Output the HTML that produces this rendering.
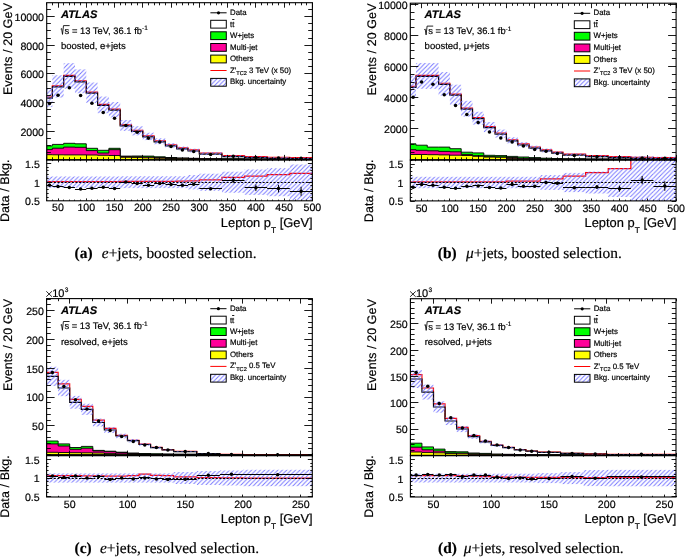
<!DOCTYPE html><html><head><meta charset="utf-8"><style>html,body{margin:0;padding:0;background:#fff;width:685px;height:559px;overflow:hidden}svg{display:block;will-change:transform;text-rendering:geometricPrecision} text{stroke:#000;stroke-width:0.18px}</style></head><body>
<svg width="685" height="559" viewBox="0 0 685 559">
<defs><pattern id="hatch" patternUnits="userSpaceOnUse" width="4.4" height="4.4"><path d="M-1.1,1.1 L1.1,-1.1 M0,4.4 L4.4,0 M3.3,5.5 L5.5,3.3" stroke="#7070ff" stroke-width="0.9"/></pattern><pattern id="hatch2" patternUnits="userSpaceOnUse" width="4.4" height="4.4" x="0.5" y="0.5"><path d="M-1.1,1.1 L1.1,-1.1 M0,4.4 L4.4,0 M3.3,5.5 L5.5,3.3" stroke="#7070ff" stroke-width="0.9"/></pattern></defs>
<rect width="685" height="559" fill="#fff"/>
<clipPath id="clipa"><rect x="46.7" y="2.7" width="265.7" height="157.2"/></clipPath>
<clipPath id="rclipa"><rect x="46.7" y="159.9" width="265.7" height="40.9"/></clipPath>
<g clip-path="url(#clipa)">
<path d="M46.7,161.9 L46.7,145.9 L52.35,145.9 L52.35,144.4 L63.66,144.4 L63.66,143.3 L74.97,143.3 L74.97,143.8 L86.27,143.8 L86.27,148.3 L97.58,148.3 L97.58,150.3 L108.89,150.3 L108.89,148.3 L120.19,148.3 L120.19,156.1 L131.5,156.1 L131.5,156 L142.8,156 L142.8,156.1 L154.11,156.1 L154.11,156.8 L165.42,156.8 L165.42,157.5 L176.72,157.5 L176.72,158 L188.03,158 L188.03,158.3 L199.34,158.3 L199.34,158.6 L221.95,158.6 L221.95,158.8 L244.56,158.8 L244.56,159 L267.17,159 L267.17,159.1 L289.79,159.1 L289.79,159.2 L312.4,159.2 L312.4,161.9 Z" fill="#00ff00" stroke="#000" stroke-width="0.9"/>
<path d="M46.7,161.9 L46.7,149.6 L52.35,149.6 L52.35,148.2 L63.66,148.2 L63.66,147.1 L74.97,147.1 L74.97,147.3 L86.27,147.3 L86.27,150.6 L97.58,150.6 L97.58,153 L108.89,153 L108.89,149.7 L120.19,149.7 L120.19,156.6 L131.5,156.6 L131.5,156.8 L142.8,156.8 L142.8,157 L154.11,157 L154.11,157.6 L165.42,157.6 L165.42,158 L176.72,158 L176.72,158.3 L188.03,158.3 L188.03,158.6 L199.34,158.6 L199.34,158.8 L221.95,158.8 L221.95,159 L244.56,159 L244.56,159.1 L267.17,159.1 L267.17,159.2 L289.79,159.2 L289.79,159.3 L312.4,159.3 L312.4,161.9 Z" fill="#ff0099" stroke="#000" stroke-width="0.9"/>
<path d="M46.7,161.9 L46.7,154.7 L52.35,154.7 L52.35,154.8 L63.66,154.8 L63.66,154.9 L74.97,154.9 L74.97,154.9 L86.27,154.9 L86.27,155 L97.58,155 L97.58,155.3 L108.89,155.3 L108.89,155.5 L120.19,155.5 L120.19,157.3 L131.5,157.3 L131.5,157.4 L142.8,157.4 L142.8,157.8 L154.11,157.8 L154.11,158.2 L165.42,158.2 L165.42,158.5 L176.72,158.5 L176.72,158.7 L188.03,158.7 L188.03,158.9 L199.34,158.9 L199.34,159.1 L221.95,159.1 L221.95,159.2 L244.56,159.2 L244.56,159.3 L267.17,159.3 L267.17,159.4 L289.79,159.4 L289.79,159.5 L312.4,159.5 L312.4,161.9 Z" fill="#ffff00" stroke="#000" stroke-width="0.9"/>
<line x1="46.7" y1="159.9" x2="312.4" y2="159.9" stroke="#000" stroke-width="1.0"/>
<path d="M46.7,97 L52.35,97 L52.35,85.8 L63.66,85.8 L63.66,75.3 L74.97,75.3 L74.97,80.7 L86.27,80.7 L86.27,92.1 L97.58,92.1 L97.58,104.3 L108.89,104.3 L108.89,109.1 L120.19,109.1 L120.19,124.8 L131.5,124.8 L131.5,130.2 L142.8,130.2 L142.8,135.8 L154.11,135.8 L154.11,140.7 L165.42,140.7 L165.42,144.7 L176.72,144.7 L176.72,147.8 L188.03,147.8 L188.03,149.9 L199.34,149.9 L199.34,153 L221.95,153 L221.95,155.6 L244.56,155.6 L244.56,156.6 L267.17,156.6 L267.17,157.2 L289.79,157.2 L289.79,157.6 L312.4,157.6" fill="none" stroke="#ff0000" stroke-width="1.15"/>
<path d="M46.7,98.1 L52.35,98.1 L52.35,86.9 L63.66,86.9 L63.66,76.4 L74.97,76.4 L74.97,81.8 L86.27,81.8 L86.27,93.2 L97.58,93.2 L97.58,105.4 L108.89,105.4 L108.89,110.2 L120.19,110.2 L120.19,125.9 L131.5,125.9 L131.5,131.3 L142.8,131.3 L142.8,136.9 L154.11,136.9 L154.11,141.8 L165.42,141.8 L165.42,145.8 L176.72,145.8 L176.72,148.9 L188.03,148.9 L188.03,151 L199.34,151 L199.34,154.1 L221.95,154.1 L221.95,156.7 L244.56,156.7 L244.56,157.7 L267.17,157.7 L267.17,158.3 L289.79,158.3 L289.79,158.7 L312.4,158.7" fill="none" stroke="#000" stroke-width="1.2"/>
<rect x="46.7" y="88.16" width="5.65" height="18.89" fill="url(#hatch)"/>
<rect x="52.35" y="75.26" width="11.31" height="22.28" fill="url(#hatch)"/>
<rect x="63.66" y="63.17" width="11.31" height="25.47" fill="url(#hatch)"/>
<rect x="74.97" y="69.38" width="11.31" height="23.83" fill="url(#hatch)"/>
<rect x="86.27" y="82.51" width="11.31" height="20.37" fill="url(#hatch)"/>
<rect x="97.58" y="96.56" width="11.31" height="16.68" fill="url(#hatch)"/>
<rect x="108.89" y="102.09" width="11.31" height="15.22" fill="url(#hatch)"/>
<rect x="120.19" y="119.99" width="11.31" height="10.83" fill="url(#hatch)"/>
<rect x="131.5" y="126.23" width="11.31" height="9.13" fill="url(#hatch)"/>
<rect x="142.8" y="132.71" width="11.31" height="7.38" fill="url(#hatch)"/>
<rect x="154.11" y="138.38" width="11.31" height="5.84" fill="url(#hatch)"/>
<rect x="165.42" y="143.01" width="11.31" height="4.58" fill="url(#hatch)"/>
<rect x="176.72" y="146.6" width="11.31" height="3.61" fill="url(#hatch)"/>
<rect x="188.03" y="148.7" width="11.31" height="3.6" fill="url(#hatch)"/>
<rect x="199.34" y="152.18" width="22.61" height="2.85" fill="url(#hatch)"/>
<rect x="221.95" y="155.17" width="22.61" height="2.07" fill="url(#hatch)"/>
<rect x="244.56" y="156.29" width="22.61" height="1.82" fill="url(#hatch)"/>
<rect x="267.17" y="157.02" width="22.61" height="1.56" fill="url(#hatch)"/>
<rect x="289.79" y="157.4" width="22.61" height="1.6" fill="url(#hatch)"/>
<circle cx="49.53" cy="103.6" r="1.75" fill="#000"/>
<circle cx="58.01" cy="95.3" r="1.75" fill="#000"/>
<circle cx="69.31" cy="87.8" r="1.75" fill="#000"/>
<circle cx="80.62" cy="95.6" r="1.75" fill="#000"/>
<circle cx="91.93" cy="103.2" r="1.75" fill="#000"/>
<circle cx="103.23" cy="112.4" r="1.75" fill="#000"/>
<circle cx="114.54" cy="118.2" r="1.75" fill="#000"/>
<circle cx="125.84" cy="125.4" r="1.75" fill="#000"/>
<circle cx="137.15" cy="132.2" r="1.75" fill="#000"/>
<circle cx="148.46" cy="138.3" r="1.75" fill="#000"/>
<circle cx="159.76" cy="142.1" r="1.75" fill="#000"/>
<circle cx="171.07" cy="146.4" r="1.75" fill="#000"/>
<circle cx="182.38" cy="149.9" r="1.75" fill="#000"/>
<circle cx="193.68" cy="151.6" r="1.75" fill="#000"/>
<circle cx="210.64" cy="154.4" r="1.75" fill="#000"/>
<circle cx="233.26" cy="156.3" r="1.75" fill="#000"/>
<circle cx="255.87" cy="157.5" r="1.75" fill="#000"/>
<circle cx="278.48" cy="158" r="1.75" fill="#000"/>
<circle cx="301.09" cy="158.3" r="1.75" fill="#000"/>
</g>
<g clip-path="url(#rclipa)">
<path d="M46.7,181.7 L52.35,181.7 L52.35,181.7 L63.66,181.7 L63.66,181.7 L74.97,181.7 L74.97,181.7 L86.27,181.7 L86.27,181.7 L97.58,181.7 L97.58,181.7 L108.89,181.7 L108.89,181.7 L120.19,181.7 L120.19,181.4 L131.5,181.4 L131.5,181.4 L142.8,181.4 L142.8,181.4 L154.11,181.4 L154.11,181.4 L165.42,181.4 L165.42,181.4 L176.72,181.4 L176.72,181.1 L188.03,181.1 L188.03,180.8 L199.34,180.8 L199.34,179.9 L221.95,179.9 L221.95,177.4 L244.56,177.4 L244.56,176.2 L267.17,176.2 L267.17,174.6 L289.79,174.6 L289.79,173.3 L312.4,173.3" fill="none" stroke="#ff0000" stroke-width="1.25"/>
<rect x="46.7" y="176.5" width="5.65" height="11.4" fill="url(#hatch)"/>
<rect x="52.35" y="176.5" width="11.31" height="11.4" fill="url(#hatch)"/>
<rect x="63.66" y="176.5" width="11.31" height="11.4" fill="url(#hatch)"/>
<rect x="74.97" y="176.5" width="11.31" height="11.4" fill="url(#hatch)"/>
<rect x="86.27" y="176.5" width="11.31" height="11.4" fill="url(#hatch)"/>
<rect x="97.58" y="176.5" width="11.31" height="11.4" fill="url(#hatch)"/>
<rect x="108.89" y="176.5" width="11.31" height="11.4" fill="url(#hatch)"/>
<rect x="120.19" y="176.3" width="11.31" height="11.8" fill="url(#hatch)"/>
<rect x="131.5" y="176.3" width="11.31" height="11.8" fill="url(#hatch)"/>
<rect x="142.8" y="176.3" width="11.31" height="11.8" fill="url(#hatch)"/>
<rect x="154.11" y="176.3" width="11.31" height="11.8" fill="url(#hatch)"/>
<rect x="165.42" y="176.3" width="11.31" height="11.8" fill="url(#hatch)"/>
<rect x="176.72" y="176.3" width="11.31" height="11.8" fill="url(#hatch)"/>
<rect x="188.03" y="175" width="11.31" height="14.4" fill="url(#hatch)"/>
<rect x="199.34" y="173.7" width="22.61" height="17" fill="url(#hatch)"/>
<rect x="221.95" y="171.7" width="22.61" height="21" fill="url(#hatch)"/>
<rect x="244.56" y="169.5" width="22.61" height="25.4" fill="url(#hatch)"/>
<rect x="267.17" y="168.2" width="22.61" height="28" fill="url(#hatch)"/>
<rect x="289.79" y="164.5" width="22.61" height="35.4" fill="url(#hatch)"/>
<line x1="46.7" y1="182.5" x2="312.4" y2="182.5" stroke="#000" stroke-width="1" stroke-dasharray="2,1.6"/>
<line x1="46.7" y1="185.5" x2="52.35" y2="185.5" stroke="#000" stroke-width="1.1"/>
<circle cx="49.53" cy="185.2" r="1.75" fill="#000"/>
<line x1="52.35" y1="186.5" x2="63.66" y2="186.5" stroke="#000" stroke-width="1.1"/>
<circle cx="58.01" cy="186.6" r="1.75" fill="#000"/>
<line x1="63.66" y1="187.5" x2="74.97" y2="187.5" stroke="#000" stroke-width="1.1"/>
<circle cx="69.31" cy="187.6" r="1.75" fill="#000"/>
<line x1="74.97" y1="189.5" x2="86.27" y2="189.5" stroke="#000" stroke-width="1.1"/>
<circle cx="80.62" cy="189.1" r="1.75" fill="#000"/>
<line x1="86.27" y1="188.5" x2="97.58" y2="188.5" stroke="#000" stroke-width="1.1"/>
<circle cx="91.93" cy="188.2" r="1.75" fill="#000"/>
<line x1="97.58" y1="187.5" x2="108.89" y2="187.5" stroke="#000" stroke-width="1.1"/>
<circle cx="103.23" cy="187.2" r="1.75" fill="#000"/>
<line x1="108.89" y1="188.5" x2="120.19" y2="188.5" stroke="#000" stroke-width="1.1"/>
<circle cx="114.54" cy="188.5" r="1.75" fill="#000"/>
<line x1="120.19" y1="182.5" x2="131.5" y2="182.5" stroke="#000" stroke-width="1.1"/>
<circle cx="125.84" cy="182" r="1.75" fill="#000"/>
<line x1="131.5" y1="183.5" x2="142.8" y2="183.5" stroke="#000" stroke-width="1.1"/>
<circle cx="137.15" cy="183.4" r="1.75" fill="#000"/>
<line x1="142.8" y1="185.5" x2="154.11" y2="185.5" stroke="#000" stroke-width="1.1"/>
<circle cx="148.46" cy="185.3" r="1.75" fill="#000"/>
<line x1="154.11" y1="183.5" x2="165.42" y2="183.5" stroke="#000" stroke-width="1.1"/>
<circle cx="159.76" cy="183.4" r="1.75" fill="#000"/>
<line x1="165.42" y1="184.5" x2="176.72" y2="184.5" stroke="#000" stroke-width="1.1"/>
<circle cx="171.07" cy="184.6" r="1.75" fill="#000"/>
<line x1="176.72" y1="185.5" x2="188.03" y2="185.5" stroke="#000" stroke-width="1.1"/>
<circle cx="182.38" cy="185.2" r="1.75" fill="#000"/>
<line x1="188.03" y1="184.5" x2="199.34" y2="184.5" stroke="#000" stroke-width="1.1"/>
<circle cx="193.68" cy="184.2" r="1.75" fill="#000"/>
<line x1="199.34" y1="188.5" x2="221.95" y2="188.5" stroke="#000" stroke-width="1.1"/>
<circle cx="210.64" cy="188.7" r="1.75" fill="#000"/>
<line x1="221.95" y1="180.5" x2="244.56" y2="180.5" stroke="#000" stroke-width="1.1"/>
<line x1="233.26" y1="177.2" x2="233.26" y2="183.2" stroke="#000" stroke-width="1"/>
<circle cx="233.26" cy="180.2" r="1.75" fill="#000"/>
<line x1="244.56" y1="187.5" x2="267.17" y2="187.5" stroke="#000" stroke-width="1.1"/>
<line x1="255.87" y1="184.5" x2="255.87" y2="191.1" stroke="#000" stroke-width="1"/>
<circle cx="255.87" cy="187.8" r="1.75" fill="#000"/>
<line x1="267.17" y1="188.5" x2="289.79" y2="188.5" stroke="#000" stroke-width="1.1"/>
<line x1="278.48" y1="184.8" x2="278.48" y2="192.4" stroke="#000" stroke-width="1"/>
<circle cx="278.48" cy="188.6" r="1.75" fill="#000"/>
<line x1="289.79" y1="191.5" x2="312.4" y2="191.5" stroke="#000" stroke-width="1.1"/>
<line x1="301.09" y1="186.8" x2="301.09" y2="195.8" stroke="#000" stroke-width="1"/>
<circle cx="301.09" cy="191.3" r="1.75" fill="#000"/>
</g>
<path d="M46.7,159.5L50.9,159.5M312.4,159.5L308.2,159.5M46.7,152.5L50.9,152.5M312.4,152.5L308.2,152.5M46.7,145.5L50.9,145.5M312.4,145.5L308.2,145.5M46.7,138.5L50.9,138.5M312.4,138.5L308.2,138.5M46.7,131.5L54.7,131.5M312.4,131.5L304.4,131.5M46.7,124.5L50.9,124.5M312.4,124.5L308.2,124.5M46.7,116.5L50.9,116.5M312.4,116.5L308.2,116.5M46.7,109.5L50.9,109.5M312.4,109.5L308.2,109.5M46.7,102.5L54.7,102.5M312.4,102.5L304.4,102.5M46.7,95.5L50.9,95.5M312.4,95.5L308.2,95.5M46.7,88.5L50.9,88.5M312.4,88.5L308.2,88.5M46.7,81.5L50.9,81.5M312.4,81.5L308.2,81.5M46.7,73.5L54.7,73.5M312.4,73.5L304.4,73.5M46.7,66.5L50.9,66.5M312.4,66.5L308.2,66.5M46.7,59.5L50.9,59.5M312.4,59.5L308.2,59.5M46.7,52.5L50.9,52.5M312.4,52.5L308.2,52.5M46.7,45.5L54.7,45.5M312.4,45.5L304.4,45.5M46.7,38.5L50.9,38.5M312.4,38.5L308.2,38.5M46.7,30.5L50.9,30.5M312.4,30.5L308.2,30.5M46.7,23.5L50.9,23.5M312.4,23.5L308.2,23.5M46.7,16.5L54.7,16.5M312.4,16.5L304.4,16.5M46.7,9.5L50.9,9.5M312.4,9.5L308.2,9.5M46.5,2.7L46.5,5.3M46.5,159.9L46.5,157.3M46.5,200.8L46.5,199.6M46.5,159.9L46.5,161.1M52.5,2.7L52.5,5.3M52.5,159.9L52.5,157.3M52.5,200.8L52.5,199.6M52.5,159.9L52.5,161.1M58.5,2.7L58.5,7.7M58.5,159.9L58.5,154.9M58.5,200.8L58.5,198.4M58.5,159.9L58.5,162.3M63.5,2.7L63.5,5.3M63.5,159.9L63.5,157.3M63.5,200.8L63.5,199.6M63.5,159.9L63.5,161.1M69.5,2.7L69.5,5.3M69.5,159.9L69.5,157.3M69.5,200.8L69.5,199.6M69.5,159.9L69.5,161.1M74.5,2.7L74.5,5.3M74.5,159.9L74.5,157.3M74.5,200.8L74.5,199.6M74.5,159.9L74.5,161.1M80.5,2.7L80.5,5.3M80.5,159.9L80.5,157.3M80.5,200.8L80.5,199.6M80.5,159.9L80.5,161.1M86.5,2.7L86.5,7.7M86.5,159.9L86.5,154.9M86.5,200.8L86.5,198.4M86.5,159.9L86.5,162.3M91.5,2.7L91.5,5.3M91.5,159.9L91.5,157.3M91.5,200.8L91.5,199.6M91.5,159.9L91.5,161.1M97.5,2.7L97.5,5.3M97.5,159.9L97.5,157.3M97.5,200.8L97.5,199.6M97.5,159.9L97.5,161.1M103.5,2.7L103.5,5.3M103.5,159.9L103.5,157.3M103.5,200.8L103.5,199.6M103.5,159.9L103.5,161.1M108.5,2.7L108.5,5.3M108.5,159.9L108.5,157.3M108.5,200.8L108.5,199.6M108.5,159.9L108.5,161.1M114.5,2.7L114.5,7.7M114.5,159.9L114.5,154.9M114.5,200.8L114.5,198.4M114.5,159.9L114.5,162.3M120.5,2.7L120.5,5.3M120.5,159.9L120.5,157.3M120.5,200.8L120.5,199.6M120.5,159.9L120.5,161.1M125.5,2.7L125.5,5.3M125.5,159.9L125.5,157.3M125.5,200.8L125.5,199.6M125.5,159.9L125.5,161.1M131.5,2.7L131.5,5.3M131.5,159.9L131.5,157.3M131.5,200.8L131.5,199.6M131.5,159.9L131.5,161.1M137.5,2.7L137.5,5.3M137.5,159.9L137.5,157.3M137.5,200.8L137.5,199.6M137.5,159.9L137.5,161.1M142.5,2.7L142.5,7.7M142.5,159.9L142.5,154.9M142.5,200.8L142.5,198.4M142.5,159.9L142.5,162.3M148.5,2.7L148.5,5.3M148.5,159.9L148.5,157.3M148.5,200.8L148.5,199.6M148.5,159.9L148.5,161.1M154.5,2.7L154.5,5.3M154.5,159.9L154.5,157.3M154.5,200.8L154.5,199.6M154.5,159.9L154.5,161.1M159.5,2.7L159.5,5.3M159.5,159.9L159.5,157.3M159.5,200.8L159.5,199.6M159.5,159.9L159.5,161.1M165.5,2.7L165.5,5.3M165.5,159.9L165.5,157.3M165.5,200.8L165.5,199.6M165.5,159.9L165.5,161.1M171.5,2.7L171.5,7.7M171.5,159.9L171.5,154.9M171.5,200.8L171.5,198.4M171.5,159.9L171.5,162.3M176.5,2.7L176.5,5.3M176.5,159.9L176.5,157.3M176.5,200.8L176.5,199.6M176.5,159.9L176.5,161.1M182.5,2.7L182.5,5.3M182.5,159.9L182.5,157.3M182.5,200.8L182.5,199.6M182.5,159.9L182.5,161.1M188.5,2.7L188.5,5.3M188.5,159.9L188.5,157.3M188.5,200.8L188.5,199.6M188.5,159.9L188.5,161.1M193.5,2.7L193.5,5.3M193.5,159.9L193.5,157.3M193.5,200.8L193.5,199.6M193.5,159.9L193.5,161.1M199.5,2.7L199.5,7.7M199.5,159.9L199.5,154.9M199.5,200.8L199.5,198.4M199.5,159.9L199.5,162.3M204.5,2.7L204.5,5.3M204.5,159.9L204.5,157.3M204.5,200.8L204.5,199.6M204.5,159.9L204.5,161.1M210.5,2.7L210.5,5.3M210.5,159.9L210.5,157.3M210.5,200.8L210.5,199.6M210.5,159.9L210.5,161.1M216.5,2.7L216.5,5.3M216.5,159.9L216.5,157.3M216.5,200.8L216.5,199.6M216.5,159.9L216.5,161.1M221.5,2.7L221.5,5.3M221.5,159.9L221.5,157.3M221.5,200.8L221.5,199.6M221.5,159.9L221.5,161.1M227.5,2.7L227.5,7.7M227.5,159.9L227.5,154.9M227.5,200.8L227.5,198.4M227.5,159.9L227.5,162.3M233.5,2.7L233.5,5.3M233.5,159.9L233.5,157.3M233.5,200.8L233.5,199.6M233.5,159.9L233.5,161.1M238.5,2.7L238.5,5.3M238.5,159.9L238.5,157.3M238.5,200.8L238.5,199.6M238.5,159.9L238.5,161.1M244.5,2.7L244.5,5.3M244.5,159.9L244.5,157.3M244.5,200.8L244.5,199.6M244.5,159.9L244.5,161.1M250.5,2.7L250.5,5.3M250.5,159.9L250.5,157.3M250.5,200.8L250.5,199.6M250.5,159.9L250.5,161.1M255.5,2.7L255.5,7.7M255.5,159.9L255.5,154.9M255.5,200.8L255.5,198.4M255.5,159.9L255.5,162.3M261.5,2.7L261.5,5.3M261.5,159.9L261.5,157.3M261.5,200.8L261.5,199.6M261.5,159.9L261.5,161.1M267.5,2.7L267.5,5.3M267.5,159.9L267.5,157.3M267.5,200.8L267.5,199.6M267.5,159.9L267.5,161.1M272.5,2.7L272.5,5.3M272.5,159.9L272.5,157.3M272.5,200.8L272.5,199.6M272.5,159.9L272.5,161.1M278.5,2.7L278.5,5.3M278.5,159.9L278.5,157.3M278.5,200.8L278.5,199.6M278.5,159.9L278.5,161.1M284.5,2.7L284.5,7.7M284.5,159.9L284.5,154.9M284.5,200.8L284.5,198.4M284.5,159.9L284.5,162.3M289.5,2.7L289.5,5.3M289.5,159.9L289.5,157.3M289.5,200.8L289.5,199.6M289.5,159.9L289.5,161.1M295.5,2.7L295.5,5.3M295.5,159.9L295.5,157.3M295.5,200.8L295.5,199.6M295.5,159.9L295.5,161.1M301.5,2.7L301.5,5.3M301.5,159.9L301.5,157.3M301.5,200.8L301.5,199.6M301.5,159.9L301.5,161.1M306.5,2.7L306.5,5.3M306.5,159.9L306.5,157.3M306.5,200.8L306.5,199.6M306.5,159.9L306.5,161.1M312.5,2.7L312.5,7.7M312.5,159.9L312.5,154.9M312.5,200.8L312.5,198.4M312.5,159.9L312.5,162.3M46.7,197.5L48.7,197.5M312.4,197.5L310.4,197.5M46.7,193.5L48.7,193.5M312.4,193.5L310.4,193.5M46.7,189.5L48.7,189.5M312.4,189.5L310.4,189.5M46.7,185.5L48.7,185.5M312.4,185.5L310.4,185.5M46.7,182.5L51.2,182.5M312.4,182.5L307.9,182.5M46.7,178.5L48.7,178.5M312.4,178.5L310.4,178.5M46.7,174.5L48.7,174.5M312.4,174.5L310.4,174.5M46.7,170.5L48.7,170.5M312.4,170.5L310.4,170.5M46.7,167.5L48.7,167.5M312.4,167.5L310.4,167.5M46.7,163.5L51.2,163.5M312.4,163.5L307.9,163.5" stroke="#000" stroke-width="0.9" fill="none"/>
<rect x="46.7" y="2.7" width="265.7" height="157.2" fill="none" stroke="#000" stroke-width="1.1"/>
<rect x="46.7" y="159.9" width="265.7" height="40.9" fill="none" stroke="#000" stroke-width="1.1"/>
<text x="44" y="135.62" text-anchor="end" style="font-family:'Liberation Sans',sans-serif;font-size:10.6px">2000</text>
<text x="44" y="106.94" text-anchor="end" style="font-family:'Liberation Sans',sans-serif;font-size:10.6px">4000</text>
<text x="44" y="78.26" text-anchor="end" style="font-family:'Liberation Sans',sans-serif;font-size:10.6px">6000</text>
<text x="44" y="49.58" text-anchor="end" style="font-family:'Liberation Sans',sans-serif;font-size:10.6px">8000</text>
<text x="44" y="20.9" text-anchor="end" style="font-family:'Liberation Sans',sans-serif;font-size:10.6px">10000</text>
<text x="39.8" y="205.4" text-anchor="end" style="font-family:'Liberation Sans',sans-serif;font-size:10.6px">0.5</text>
<text x="39.8" y="186.6" text-anchor="end" style="font-family:'Liberation Sans',sans-serif;font-size:10.6px">1</text>
<text x="39.8" y="167.8" text-anchor="end" style="font-family:'Liberation Sans',sans-serif;font-size:10.6px">1.5</text>
<text x="58.01" y="211.4" text-anchor="middle" style="font-family:'Liberation Sans',sans-serif;font-size:10.6px">50</text>
<text x="86.27" y="211.4" text-anchor="middle" style="font-family:'Liberation Sans',sans-serif;font-size:10.6px">100</text>
<text x="114.54" y="211.4" text-anchor="middle" style="font-family:'Liberation Sans',sans-serif;font-size:10.6px">150</text>
<text x="142.8" y="211.4" text-anchor="middle" style="font-family:'Liberation Sans',sans-serif;font-size:10.6px">200</text>
<text x="171.07" y="211.4" text-anchor="middle" style="font-family:'Liberation Sans',sans-serif;font-size:10.6px">250</text>
<text x="199.34" y="211.4" text-anchor="middle" style="font-family:'Liberation Sans',sans-serif;font-size:10.6px">300</text>
<text x="227.6" y="211.4" text-anchor="middle" style="font-family:'Liberation Sans',sans-serif;font-size:10.6px">350</text>
<text x="255.87" y="211.4" text-anchor="middle" style="font-family:'Liberation Sans',sans-serif;font-size:10.6px">400</text>
<text x="284.13" y="211.4" text-anchor="middle" style="font-family:'Liberation Sans',sans-serif;font-size:10.6px">450</text>
<text x="312.4" y="211.4" text-anchor="middle" style="font-family:'Liberation Sans',sans-serif;font-size:10.6px">500</text>
<text transform="translate(11.8,3.1) rotate(-90)" text-anchor="end" textLength="92" lengthAdjust="spacing" style="font-family:'Liberation Sans',sans-serif;font-size:12.4px">Events / 20 GeV</text>
<text transform="translate(8.8,159.5) rotate(-90)" text-anchor="end" textLength="62.6" lengthAdjust="spacing" style="font-family:'Liberation Sans',sans-serif;font-size:12.4px">Data / Bkg.</text>
<text x="312.7" y="226.6" text-anchor="end" style="font-family:'Liberation Sans',sans-serif;font-size:12.9px">Lepton p<tspan dy="6.2" style="font-size:8.4px">T</tspan><tspan dy="-6.2"> [GeV]</tspan></text>
<text x="61" y="17.8" style="font-family:'Liberation Sans',sans-serif;font-size:11px;font-weight:bold;font-style:italic" textLength="36.4" lengthAdjust="spacingAndGlyphs">ATLAS</text>
<path d="M60.7,29.1 L61.6,28.6 L62.5,34.4 L63.5,25.6 L69.6,25.6" fill="none" stroke="#000" stroke-width="0.85" stroke-linejoin="miter"/>
<text x="64.6" y="33.5" style="font-family:'Liberation Sans',sans-serif;font-size:9.4px">s = 13 TeV, 36.1 fb<tspan dy="-3.3" style="font-size:6.5px">-1</tspan></text>
<text x="61" y="48.8" style="font-family:'Liberation Sans',sans-serif;font-size:9.5px">boosted, e+jets</text>
<line x1="210.4" y1="12.8" x2="226.6" y2="12.8" stroke="#000" stroke-width="1"/>
<circle cx="218.5" cy="12.8" r="1.6" fill="#000"/>
<text x="230" y="14.9" style="font-family:'Liberation Sans',sans-serif;font-size:7.85px">Data</text>
<rect x="210.7" y="20.3" width="15.6" height="7.8" fill="#fff" stroke="#000" stroke-width="1"/>
<text x="230" y="26.8" style="font-family:'Liberation Sans',sans-serif;font-size:7.85px">tt</text>
<line x1="232.2" y1="19.5" x2="234.4" y2="19.5" stroke="#000" stroke-width="0.9"/>
<rect x="210.7" y="31.8" width="15.6" height="7.8" fill="#00ff00" stroke="#000" stroke-width="1"/>
<text x="230" y="37.8" style="font-family:'Liberation Sans',sans-serif;font-size:7.85px">W+jets</text>
<rect x="210.7" y="43.5" width="15.6" height="7.8" fill="#ff0099" stroke="#000" stroke-width="1"/>
<text x="230" y="49.5" style="font-family:'Liberation Sans',sans-serif;font-size:7.85px">Multi-jet</text>
<rect x="210.7" y="55.1" width="15.6" height="7.8" fill="#ffff00" stroke="#000" stroke-width="1"/>
<text x="230" y="61.1" style="font-family:'Liberation Sans',sans-serif;font-size:7.85px">Others</text>
<line x1="210.4" y1="70.5" x2="226.6" y2="70.5" stroke="#ff0000" stroke-width="1"/>
<text x="230" y="72.5" style="font-family:'Liberation Sans',sans-serif;font-size:7.85px">Z'<tspan dy="2.4" style="font-size:5.6px">TC2</tspan><tspan dy="-2.4"> 3 TeV (x 50)</tspan></text>
<rect x="210.7" y="78.4" width="15.6" height="7.8" fill="url(#hatch2)" stroke="#000" stroke-width="1"/>
<text x="230" y="84.4" style="font-family:'Liberation Sans',sans-serif;font-size:7.85px">Bkg. uncertainty</text>
<clipPath id="clipb"><rect x="410.3" y="3.2" width="265.8" height="156.8"/></clipPath>
<clipPath id="rclipb"><rect x="410.3" y="160" width="265.8" height="40.9"/></clipPath>
<g clip-path="url(#clipb)">
<path d="M410.3,161.8 L410.3,143.8 L415.96,143.8 L415.96,145.2 L427.27,145.2 L427.27,147.1 L438.58,147.1 L438.58,147.1 L449.89,147.1 L449.89,148.7 L461.2,148.7 L461.2,152.2 L472.51,152.2 L472.51,152.9 L483.82,152.9 L483.82,155.3 L495.13,155.3 L495.13,155.6 L506.44,155.6 L506.44,156.4 L517.75,156.4 L517.75,157 L529.06,157 L529.06,157.6 L540.37,157.6 L540.37,158.2 L551.68,158.2 L551.68,158.5 L562.99,158.5 L562.99,158.7 L585.61,158.7 L585.61,158.9 L608.24,158.9 L608.24,159 L630.86,159 L630.86,159.1 L653.48,159.1 L653.48,159.2 L676.1,159.2 L676.1,161.8 Z" fill="#00ff00" stroke="#000" stroke-width="0.9"/>
<path d="M410.3,161.8 L410.3,149.7 L415.96,149.7 L415.96,150.3 L427.27,150.3 L427.27,150.8 L438.58,150.8 L438.58,151.4 L449.89,151.4 L449.89,151.8 L461.2,151.8 L461.2,154.4 L472.51,154.4 L472.51,155.7 L483.82,155.7 L483.82,156.7 L495.13,156.7 L495.13,156.9 L506.44,156.9 L506.44,157.6 L517.75,157.6 L517.75,158.2 L529.06,158.2 L529.06,158.6 L540.37,158.6 L540.37,158.9 L551.68,158.9 L551.68,159 L562.99,159 L562.99,159.1 L585.61,159.1 L585.61,159.2 L608.24,159.2 L608.24,159.3 L630.86,159.3 L630.86,159.3 L653.48,159.3 L653.48,159.4 L676.1,159.4 L676.1,161.8 Z" fill="#ff0099" stroke="#000" stroke-width="0.9"/>
<path d="M410.3,161.8 L410.3,154.5 L415.96,154.5 L415.96,154.5 L427.27,154.5 L427.27,154.7 L438.58,154.7 L438.58,154.9 L449.89,154.9 L449.89,155.2 L461.2,155.2 L461.2,155.5 L472.51,155.5 L472.51,156.3 L483.82,156.3 L483.82,157.1 L495.13,157.1 L495.13,157.3 L506.44,157.3 L506.44,158.4 L517.75,158.4 L517.75,158.9 L529.06,158.9 L529.06,159.2 L540.37,159.2 L540.37,159.3 L551.68,159.3 L551.68,159.4 L562.99,159.4 L562.99,159.4 L585.61,159.4 L585.61,159.5 L608.24,159.5 L608.24,159.5 L630.86,159.5 L630.86,159.5 L653.48,159.5 L653.48,159.6 L676.1,159.6 L676.1,161.8 Z" fill="#ffff00" stroke="#000" stroke-width="0.9"/>
<line x1="410.3" y1="159.8" x2="676.1" y2="159.8" stroke="#000" stroke-width="1.0"/>
<path d="M410.3,86.2 L415.96,86.2 L415.96,75.3 L427.27,75.3 L427.27,75.3 L438.58,75.3 L438.58,83.2 L449.89,83.2 L449.89,94.1 L461.2,94.1 L461.2,108.1 L472.51,108.1 L472.51,117.6 L483.82,117.6 L483.82,126.5 L495.13,126.5 L495.13,133 L506.44,133 L506.44,139.7 L517.75,139.7 L517.75,143.9 L529.06,143.9 L529.06,147 L540.37,147 L540.37,149.8 L551.68,149.8 L551.68,152.1 L562.99,152.1 L562.99,154.1 L585.61,154.1 L585.61,155.6 L608.24,155.6 L608.24,156.6 L630.86,156.6 L630.86,157.2 L653.48,157.2 L653.48,157.5 L676.1,157.5" fill="none" stroke="#ff0000" stroke-width="1.15"/>
<path d="M410.3,87.3 L415.96,87.3 L415.96,76.4 L427.27,76.4 L427.27,76.4 L438.58,76.4 L438.58,84.3 L449.89,84.3 L449.89,95.2 L461.2,95.2 L461.2,109.2 L472.51,109.2 L472.51,118.7 L483.82,118.7 L483.82,127.6 L495.13,127.6 L495.13,134.1 L506.44,134.1 L506.44,140.8 L517.75,140.8 L517.75,145 L529.06,145 L529.06,148.1 L540.37,148.1 L540.37,150.9 L551.68,150.9 L551.68,153.2 L562.99,153.2 L562.99,155.2 L585.61,155.2 L585.61,156.7 L608.24,156.7 L608.24,157.7 L630.86,157.7 L630.86,158.3 L653.48,158.3 L653.48,158.6 L676.1,158.6" fill="none" stroke="#000" stroke-width="1.2"/>
<rect x="410.3" y="75.55" width="5.66" height="22.49" fill="url(#hatch)"/>
<rect x="415.96" y="62.97" width="11.31" height="25.85" fill="url(#hatch)"/>
<rect x="427.27" y="62.97" width="11.31" height="25.85" fill="url(#hatch)"/>
<rect x="438.58" y="72.09" width="11.31" height="23.42" fill="url(#hatch)"/>
<rect x="449.89" y="84.67" width="11.31" height="20.06" fill="url(#hatch)"/>
<rect x="461.2" y="100.83" width="11.31" height="15.74" fill="url(#hatch)"/>
<rect x="472.51" y="111.79" width="11.31" height="12.82" fill="url(#hatch)"/>
<rect x="483.82" y="122.06" width="11.31" height="10.08" fill="url(#hatch)"/>
<rect x="495.13" y="129.56" width="11.31" height="8.07" fill="url(#hatch)"/>
<rect x="506.44" y="137.3" width="11.31" height="6.01" fill="url(#hatch)"/>
<rect x="517.75" y="142.14" width="11.31" height="4.71" fill="url(#hatch)"/>
<rect x="529.06" y="145.72" width="11.31" height="3.76" fill="url(#hatch)"/>
<rect x="540.37" y="148.52" width="11.31" height="3.76" fill="url(#hatch)"/>
<rect x="551.68" y="151.28" width="11.31" height="2.84" fill="url(#hatch)"/>
<rect x="562.99" y="153.38" width="22.62" height="2.65" fill="url(#hatch)"/>
<rect x="585.61" y="155.13" width="22.62" height="2.14" fill="url(#hatch)"/>
<rect x="608.24" y="156.18" width="22.62" height="2.04" fill="url(#hatch)"/>
<rect x="630.86" y="156.18" width="22.62" height="3.24" fill="url(#hatch)"/>
<rect x="653.48" y="156.72" width="22.62" height="2.76" fill="url(#hatch)"/>
<circle cx="413.13" cy="97.3" r="1.75" fill="#000"/>
<circle cx="421.61" cy="82" r="1.75" fill="#000"/>
<circle cx="432.92" cy="84.2" r="1.75" fill="#000"/>
<circle cx="444.23" cy="94.7" r="1.75" fill="#000"/>
<circle cx="455.54" cy="105.4" r="1.75" fill="#000"/>
<circle cx="466.85" cy="114.6" r="1.75" fill="#000"/>
<circle cx="478.16" cy="122.6" r="1.75" fill="#000"/>
<circle cx="489.47" cy="132" r="1.75" fill="#000"/>
<circle cx="500.79" cy="138" r="1.75" fill="#000"/>
<circle cx="512.1" cy="142.1" r="1.75" fill="#000"/>
<circle cx="523.41" cy="146.1" r="1.75" fill="#000"/>
<circle cx="534.72" cy="149.5" r="1.75" fill="#000"/>
<circle cx="546.03" cy="151.2" r="1.75" fill="#000"/>
<circle cx="557.34" cy="153.6" r="1.75" fill="#000"/>
<circle cx="574.3" cy="155.6" r="1.75" fill="#000"/>
<circle cx="596.93" cy="156.8" r="1.75" fill="#000"/>
<circle cx="619.55" cy="157.6" r="1.75" fill="#000"/>
<circle cx="642.17" cy="157.9" r="1.75" fill="#000"/>
<circle cx="664.79" cy="158.3" r="1.75" fill="#000"/>
</g>
<g clip-path="url(#rclipb)">
<path d="M410.3,181.9 L415.96,181.9 L415.96,181.9 L427.27,181.9 L427.27,181.9 L438.58,181.9 L438.58,181.9 L449.89,181.9 L449.89,181.9 L461.2,181.9 L461.2,181.9 L472.51,181.9 L472.51,181.9 L483.82,181.9 L483.82,181.9 L495.13,181.9 L495.13,181.9 L506.44,181.9 L506.44,181 L517.75,181 L517.75,181 L529.06,181 L529.06,181 L540.37,181 L540.37,178.9 L551.68,178.9 L551.68,178.9 L562.99,178.9 L562.99,176.1 L585.61,176.1 L585.61,172.6 L608.24,172.6 L608.24,168.6 L630.86,168.6 L630.86,155 L653.48,155 L653.48,155 L676.1,155" fill="none" stroke="#ff0000" stroke-width="1.25"/>
<rect x="410.3" y="176.8" width="5.66" height="11.4" fill="url(#hatch)"/>
<rect x="415.96" y="176.8" width="11.31" height="11.4" fill="url(#hatch)"/>
<rect x="427.27" y="176.8" width="11.31" height="11.4" fill="url(#hatch)"/>
<rect x="438.58" y="176.8" width="11.31" height="11.4" fill="url(#hatch)"/>
<rect x="449.89" y="176.8" width="11.31" height="11.4" fill="url(#hatch)"/>
<rect x="461.2" y="176.8" width="11.31" height="11.4" fill="url(#hatch)"/>
<rect x="472.51" y="176.8" width="11.31" height="11.4" fill="url(#hatch)"/>
<rect x="483.82" y="176.8" width="11.31" height="11.4" fill="url(#hatch)"/>
<rect x="495.13" y="176.8" width="11.31" height="11.4" fill="url(#hatch)"/>
<rect x="506.44" y="176.8" width="11.31" height="11.4" fill="url(#hatch)"/>
<rect x="517.75" y="176.8" width="11.31" height="11.4" fill="url(#hatch)"/>
<rect x="529.06" y="176.8" width="11.31" height="11.4" fill="url(#hatch)"/>
<rect x="540.37" y="175.1" width="11.31" height="14.8" fill="url(#hatch)"/>
<rect x="551.68" y="175.1" width="11.31" height="14.8" fill="url(#hatch)"/>
<rect x="562.99" y="172.9" width="22.62" height="19.2" fill="url(#hatch)"/>
<rect x="585.61" y="171.5" width="22.62" height="22" fill="url(#hatch)"/>
<rect x="608.24" y="168" width="22.62" height="29" fill="url(#hatch)"/>
<rect x="630.86" y="152.5" width="22.62" height="60" fill="url(#hatch)"/>
<rect x="653.48" y="152.5" width="22.62" height="60" fill="url(#hatch)"/>
<line x1="410.3" y1="182.5" x2="676.1" y2="182.5" stroke="#000" stroke-width="1" stroke-dasharray="2,1.6"/>
<line x1="410.3" y1="187.5" x2="415.96" y2="187.5" stroke="#000" stroke-width="1.1"/>
<circle cx="413.13" cy="187.2" r="1.75" fill="#000"/>
<line x1="415.96" y1="184.5" x2="427.27" y2="184.5" stroke="#000" stroke-width="1.1"/>
<circle cx="421.61" cy="184.6" r="1.75" fill="#000"/>
<line x1="427.27" y1="185.5" x2="438.58" y2="185.5" stroke="#000" stroke-width="1.1"/>
<circle cx="432.92" cy="185.2" r="1.75" fill="#000"/>
<line x1="438.58" y1="187.5" x2="449.89" y2="187.5" stroke="#000" stroke-width="1.1"/>
<circle cx="444.23" cy="187.2" r="1.75" fill="#000"/>
<line x1="449.89" y1="188.5" x2="461.2" y2="188.5" stroke="#000" stroke-width="1.1"/>
<circle cx="455.54" cy="188.2" r="1.75" fill="#000"/>
<line x1="461.2" y1="186.5" x2="472.51" y2="186.5" stroke="#000" stroke-width="1.1"/>
<circle cx="466.85" cy="186.2" r="1.75" fill="#000"/>
<line x1="472.51" y1="185.5" x2="483.82" y2="185.5" stroke="#000" stroke-width="1.1"/>
<circle cx="478.16" cy="185.9" r="1.75" fill="#000"/>
<line x1="483.82" y1="187.5" x2="495.13" y2="187.5" stroke="#000" stroke-width="1.1"/>
<circle cx="489.47" cy="187.5" r="1.75" fill="#000"/>
<line x1="495.13" y1="188.5" x2="506.44" y2="188.5" stroke="#000" stroke-width="1.1"/>
<circle cx="500.79" cy="188" r="1.75" fill="#000"/>
<line x1="506.44" y1="184.5" x2="517.75" y2="184.5" stroke="#000" stroke-width="1.1"/>
<circle cx="512.1" cy="184.5" r="1.75" fill="#000"/>
<line x1="517.75" y1="186.5" x2="529.06" y2="186.5" stroke="#000" stroke-width="1.1"/>
<circle cx="523.41" cy="186.3" r="1.75" fill="#000"/>
<line x1="529.06" y1="186.5" x2="540.37" y2="186.5" stroke="#000" stroke-width="1.1"/>
<circle cx="534.72" cy="186.3" r="1.75" fill="#000"/>
<line x1="540.37" y1="182.5" x2="551.68" y2="182.5" stroke="#000" stroke-width="1.1"/>
<circle cx="546.03" cy="182.4" r="1.75" fill="#000"/>
<line x1="551.68" y1="183.5" x2="562.99" y2="183.5" stroke="#000" stroke-width="1.1"/>
<circle cx="557.34" cy="183.3" r="1.75" fill="#000"/>
<line x1="562.99" y1="187.5" x2="585.61" y2="187.5" stroke="#000" stroke-width="1.1"/>
<circle cx="574.3" cy="187.8" r="1.75" fill="#000"/>
<line x1="585.61" y1="187.5" x2="608.24" y2="187.5" stroke="#000" stroke-width="1.1"/>
<line x1="596.93" y1="185" x2="596.93" y2="189" stroke="#000" stroke-width="1"/>
<circle cx="596.93" cy="187" r="1.75" fill="#000"/>
<line x1="608.24" y1="188.5" x2="630.86" y2="188.5" stroke="#000" stroke-width="1.1"/>
<line x1="619.55" y1="185.7" x2="619.55" y2="191.7" stroke="#000" stroke-width="1"/>
<circle cx="619.55" cy="188.7" r="1.75" fill="#000"/>
<line x1="630.86" y1="180.5" x2="653.48" y2="180.5" stroke="#000" stroke-width="1.1"/>
<line x1="642.17" y1="176" x2="642.17" y2="184.2" stroke="#000" stroke-width="1"/>
<circle cx="642.17" cy="180.1" r="1.75" fill="#000"/>
<line x1="653.48" y1="186.5" x2="676.1" y2="186.5" stroke="#000" stroke-width="1.1"/>
<line x1="664.79" y1="181.2" x2="664.79" y2="190.8" stroke="#000" stroke-width="1"/>
<circle cx="664.79" cy="186" r="1.75" fill="#000"/>
</g>
<path d="M410.3,159.5L414.5,159.5M676.1,159.5L671.9,159.5M410.3,152.5L414.5,152.5M676.1,152.5L671.9,152.5M410.3,144.5L414.5,144.5M676.1,144.5L671.9,144.5M410.3,136.5L414.5,136.5M676.1,136.5L671.9,136.5M410.3,128.5L418.3,128.5M676.1,128.5L668.1,128.5M410.3,120.5L414.5,120.5M676.1,120.5L671.9,120.5M410.3,113.5L414.5,113.5M676.1,113.5L671.9,113.5M410.3,105.5L414.5,105.5M676.1,105.5L671.9,105.5M410.3,97.5L418.3,97.5M676.1,97.5L668.1,97.5M410.3,89.5L414.5,89.5M676.1,89.5L671.9,89.5M410.3,82.5L414.5,82.5M676.1,82.5L671.9,82.5M410.3,74.5L414.5,74.5M676.1,74.5L671.9,74.5M410.3,66.5L418.3,66.5M676.1,66.5L668.1,66.5M410.3,58.5L414.5,58.5M676.1,58.5L671.9,58.5M410.3,50.5L414.5,50.5M676.1,50.5L671.9,50.5M410.3,43.5L414.5,43.5M676.1,43.5L671.9,43.5M410.3,35.5L418.3,35.5M676.1,35.5L668.1,35.5M410.3,27.5L414.5,27.5M676.1,27.5L671.9,27.5M410.3,19.5L414.5,19.5M676.1,19.5L671.9,19.5M410.3,12.5L414.5,12.5M676.1,12.5L671.9,12.5M410.3,4.5L418.3,4.5M676.1,4.5L668.1,4.5M410.5,3.2L410.5,5.8M410.5,160L410.5,157.4M410.5,200.9L410.5,199.7M410.5,160L410.5,161.2M415.5,3.2L415.5,5.8M415.5,160L415.5,157.4M415.5,200.9L415.5,199.7M415.5,160L415.5,161.2M421.5,3.2L421.5,8.2M421.5,160L421.5,155M421.5,200.9L421.5,198.5M421.5,160L421.5,162.4M427.5,3.2L427.5,5.8M427.5,160L427.5,157.4M427.5,200.9L427.5,199.7M427.5,160L427.5,161.2M432.5,3.2L432.5,5.8M432.5,160L432.5,157.4M432.5,200.9L432.5,199.7M432.5,160L432.5,161.2M438.5,3.2L438.5,5.8M438.5,160L438.5,157.4M438.5,200.9L438.5,199.7M438.5,160L438.5,161.2M444.5,3.2L444.5,5.8M444.5,160L444.5,157.4M444.5,200.9L444.5,199.7M444.5,160L444.5,161.2M449.5,3.2L449.5,8.2M449.5,160L449.5,155M449.5,200.9L449.5,198.5M449.5,160L449.5,162.4M455.5,3.2L455.5,5.8M455.5,160L455.5,157.4M455.5,200.9L455.5,199.7M455.5,160L455.5,161.2M461.5,3.2L461.5,5.8M461.5,160L461.5,157.4M461.5,200.9L461.5,199.7M461.5,160L461.5,161.2M466.5,3.2L466.5,5.8M466.5,160L466.5,157.4M466.5,200.9L466.5,199.7M466.5,160L466.5,161.2M472.5,3.2L472.5,5.8M472.5,160L472.5,157.4M472.5,200.9L472.5,199.7M472.5,160L472.5,161.2M478.5,3.2L478.5,8.2M478.5,160L478.5,155M478.5,200.9L478.5,198.5M478.5,160L478.5,162.4M483.5,3.2L483.5,5.8M483.5,160L483.5,157.4M483.5,200.9L483.5,199.7M483.5,160L483.5,161.2M489.5,3.2L489.5,5.8M489.5,160L489.5,157.4M489.5,200.9L489.5,199.7M489.5,160L489.5,161.2M495.5,3.2L495.5,5.8M495.5,160L495.5,157.4M495.5,200.9L495.5,199.7M495.5,160L495.5,161.2M500.5,3.2L500.5,5.8M500.5,160L500.5,157.4M500.5,200.9L500.5,199.7M500.5,160L500.5,161.2M506.5,3.2L506.5,8.2M506.5,160L506.5,155M506.5,200.9L506.5,198.5M506.5,160L506.5,162.4M512.5,3.2L512.5,5.8M512.5,160L512.5,157.4M512.5,200.9L512.5,199.7M512.5,160L512.5,161.2M517.5,3.2L517.5,5.8M517.5,160L517.5,157.4M517.5,200.9L517.5,199.7M517.5,160L517.5,161.2M523.5,3.2L523.5,5.8M523.5,160L523.5,157.4M523.5,200.9L523.5,199.7M523.5,160L523.5,161.2M529.5,3.2L529.5,5.8M529.5,160L529.5,157.4M529.5,200.9L529.5,199.7M529.5,160L529.5,161.2M534.5,3.2L534.5,8.2M534.5,160L534.5,155M534.5,200.9L534.5,198.5M534.5,160L534.5,162.4M540.5,3.2L540.5,5.8M540.5,160L540.5,157.4M540.5,200.9L540.5,199.7M540.5,160L540.5,161.2M546.5,3.2L546.5,5.8M546.5,160L546.5,157.4M546.5,200.9L546.5,199.7M546.5,160L546.5,161.2M551.5,3.2L551.5,5.8M551.5,160L551.5,157.4M551.5,200.9L551.5,199.7M551.5,160L551.5,161.2M557.5,3.2L557.5,5.8M557.5,160L557.5,157.4M557.5,200.9L557.5,199.7M557.5,160L557.5,161.2M562.5,3.2L562.5,8.2M562.5,160L562.5,155M562.5,200.9L562.5,198.5M562.5,160L562.5,162.4M568.5,3.2L568.5,5.8M568.5,160L568.5,157.4M568.5,200.9L568.5,199.7M568.5,160L568.5,161.2M574.5,3.2L574.5,5.8M574.5,160L574.5,157.4M574.5,200.9L574.5,199.7M574.5,160L574.5,161.2M579.5,3.2L579.5,5.8M579.5,160L579.5,157.4M579.5,200.9L579.5,199.7M579.5,160L579.5,161.2M585.5,3.2L585.5,5.8M585.5,160L585.5,157.4M585.5,200.9L585.5,199.7M585.5,160L585.5,161.2M591.5,3.2L591.5,8.2M591.5,160L591.5,155M591.5,200.9L591.5,198.5M591.5,160L591.5,162.4M596.5,3.2L596.5,5.8M596.5,160L596.5,157.4M596.5,200.9L596.5,199.7M596.5,160L596.5,161.2M602.5,3.2L602.5,5.8M602.5,160L602.5,157.4M602.5,200.9L602.5,199.7M602.5,160L602.5,161.2M608.5,3.2L608.5,5.8M608.5,160L608.5,157.4M608.5,200.9L608.5,199.7M608.5,160L608.5,161.2M613.5,3.2L613.5,5.8M613.5,160L613.5,157.4M613.5,200.9L613.5,199.7M613.5,160L613.5,161.2M619.5,3.2L619.5,8.2M619.5,160L619.5,155M619.5,200.9L619.5,198.5M619.5,160L619.5,162.4M625.5,3.2L625.5,5.8M625.5,160L625.5,157.4M625.5,200.9L625.5,199.7M625.5,160L625.5,161.2M630.5,3.2L630.5,5.8M630.5,160L630.5,157.4M630.5,200.9L630.5,199.7M630.5,160L630.5,161.2M636.5,3.2L636.5,5.8M636.5,160L636.5,157.4M636.5,200.9L636.5,199.7M636.5,160L636.5,161.2M642.5,3.2L642.5,5.8M642.5,160L642.5,157.4M642.5,200.9L642.5,199.7M642.5,160L642.5,161.2M647.5,3.2L647.5,8.2M647.5,160L647.5,155M647.5,200.9L647.5,198.5M647.5,160L647.5,162.4M653.5,3.2L653.5,5.8M653.5,160L653.5,157.4M653.5,200.9L653.5,199.7M653.5,160L653.5,161.2M659.5,3.2L659.5,5.8M659.5,160L659.5,157.4M659.5,200.9L659.5,199.7M659.5,160L659.5,161.2M664.5,3.2L664.5,5.8M664.5,160L664.5,157.4M664.5,200.9L664.5,199.7M664.5,160L664.5,161.2M670.5,3.2L670.5,5.8M670.5,160L670.5,157.4M670.5,200.9L670.5,199.7M670.5,160L670.5,161.2M676.5,3.2L676.5,8.2M676.5,160L676.5,155M676.5,200.9L676.5,198.5M676.5,160L676.5,162.4M410.3,201.5L414.8,201.5M676.1,201.5L671.6,201.5M410.3,197.5L412.3,197.5M676.1,197.5L674.1,197.5M410.3,193.5L412.3,193.5M676.1,193.5L674.1,193.5M410.3,189.5L412.3,189.5M676.1,189.5L674.1,189.5M410.3,186.5L412.3,186.5M676.1,186.5L674.1,186.5M410.3,182.5L414.8,182.5M676.1,182.5L671.6,182.5M410.3,178.5L412.3,178.5M676.1,178.5L674.1,178.5M410.3,175.5L412.3,175.5M676.1,175.5L674.1,175.5M410.3,171.5L412.3,171.5M676.1,171.5L674.1,171.5M410.3,167.5L412.3,167.5M676.1,167.5L674.1,167.5M410.3,164.5L414.8,164.5M676.1,164.5L671.6,164.5M410.3,160.5L412.3,160.5M676.1,160.5L674.1,160.5" stroke="#000" stroke-width="0.9" fill="none"/>
<rect x="410.3" y="3.2" width="265.8" height="156.8" fill="none" stroke="#000" stroke-width="1.1"/>
<rect x="410.3" y="160" width="265.8" height="40.9" fill="none" stroke="#000" stroke-width="1.1"/>
<text x="407.6" y="133.1" text-anchor="end" style="font-family:'Liberation Sans',sans-serif;font-size:10.6px">2000</text>
<text x="407.6" y="102" text-anchor="end" style="font-family:'Liberation Sans',sans-serif;font-size:10.6px">4000</text>
<text x="407.6" y="70.9" text-anchor="end" style="font-family:'Liberation Sans',sans-serif;font-size:10.6px">6000</text>
<text x="407.6" y="39.8" text-anchor="end" style="font-family:'Liberation Sans',sans-serif;font-size:10.6px">8000</text>
<text x="407.6" y="8.7" text-anchor="end" style="font-family:'Liberation Sans',sans-serif;font-size:10.6px">10000</text>
<text x="403.4" y="205.4" text-anchor="end" style="font-family:'Liberation Sans',sans-serif;font-size:10.6px">0.5</text>
<text x="403.4" y="186.9" text-anchor="end" style="font-family:'Liberation Sans',sans-serif;font-size:10.6px">1</text>
<text x="403.4" y="168.4" text-anchor="end" style="font-family:'Liberation Sans',sans-serif;font-size:10.6px">1.5</text>
<text x="421.61" y="211.5" text-anchor="middle" style="font-family:'Liberation Sans',sans-serif;font-size:10.6px">50</text>
<text x="449.89" y="211.5" text-anchor="middle" style="font-family:'Liberation Sans',sans-serif;font-size:10.6px">100</text>
<text x="478.16" y="211.5" text-anchor="middle" style="font-family:'Liberation Sans',sans-serif;font-size:10.6px">150</text>
<text x="506.44" y="211.5" text-anchor="middle" style="font-family:'Liberation Sans',sans-serif;font-size:10.6px">200</text>
<text x="534.72" y="211.5" text-anchor="middle" style="font-family:'Liberation Sans',sans-serif;font-size:10.6px">250</text>
<text x="562.99" y="211.5" text-anchor="middle" style="font-family:'Liberation Sans',sans-serif;font-size:10.6px">300</text>
<text x="591.27" y="211.5" text-anchor="middle" style="font-family:'Liberation Sans',sans-serif;font-size:10.6px">350</text>
<text x="619.55" y="211.5" text-anchor="middle" style="font-family:'Liberation Sans',sans-serif;font-size:10.6px">400</text>
<text x="647.82" y="211.5" text-anchor="middle" style="font-family:'Liberation Sans',sans-serif;font-size:10.6px">450</text>
<text x="676.1" y="211.5" text-anchor="middle" style="font-family:'Liberation Sans',sans-serif;font-size:10.6px">500</text>
<text transform="translate(376.3,3.6) rotate(-90)" text-anchor="end" textLength="92" lengthAdjust="spacing" style="font-family:'Liberation Sans',sans-serif;font-size:12.4px">Events / 20 GeV</text>
<text transform="translate(373.3,159.6) rotate(-90)" text-anchor="end" textLength="62.6" lengthAdjust="spacing" style="font-family:'Liberation Sans',sans-serif;font-size:12.4px">Data / Bkg.</text>
<text x="676.4" y="226.7" text-anchor="end" style="font-family:'Liberation Sans',sans-serif;font-size:12.9px">Lepton p<tspan dy="6.2" style="font-size:8.4px">T</tspan><tspan dy="-6.2"> [GeV]</tspan></text>
<text x="424.6" y="18.3" style="font-family:'Liberation Sans',sans-serif;font-size:11px;font-weight:bold;font-style:italic" textLength="36.4" lengthAdjust="spacingAndGlyphs">ATLAS</text>
<path d="M424.3,29.6 L425.2,29.1 L426.1,34.9 L427.1,26.1 L433.2,26.1" fill="none" stroke="#000" stroke-width="0.85" stroke-linejoin="miter"/>
<text x="428.2" y="34" style="font-family:'Liberation Sans',sans-serif;font-size:9.4px">s = 13 TeV, 36.1 fb<tspan dy="-3.3" style="font-size:6.5px">-1</tspan></text>
<text x="424.6" y="49.3" style="font-family:'Liberation Sans',sans-serif;font-size:9.5px">boosted, &#956;+jets</text>
<line x1="574" y1="13.3" x2="590.2" y2="13.3" stroke="#000" stroke-width="1"/>
<circle cx="582.1" cy="13.3" r="1.6" fill="#000"/>
<text x="593.6" y="15.4" style="font-family:'Liberation Sans',sans-serif;font-size:7.85px">Data</text>
<rect x="574.3" y="20.8" width="15.6" height="7.8" fill="#fff" stroke="#000" stroke-width="1"/>
<text x="593.6" y="27.3" style="font-family:'Liberation Sans',sans-serif;font-size:7.85px">tt</text>
<line x1="595.8" y1="20.5" x2="598" y2="20.5" stroke="#000" stroke-width="0.9"/>
<rect x="574.3" y="32.3" width="15.6" height="7.8" fill="#00ff00" stroke="#000" stroke-width="1"/>
<text x="593.6" y="38.3" style="font-family:'Liberation Sans',sans-serif;font-size:7.85px">W+jets</text>
<rect x="574.3" y="44" width="15.6" height="7.8" fill="#ff0099" stroke="#000" stroke-width="1"/>
<text x="593.6" y="50" style="font-family:'Liberation Sans',sans-serif;font-size:7.85px">Multi-jet</text>
<rect x="574.3" y="55.6" width="15.6" height="7.8" fill="#ffff00" stroke="#000" stroke-width="1"/>
<text x="593.6" y="61.6" style="font-family:'Liberation Sans',sans-serif;font-size:7.85px">Others</text>
<line x1="574" y1="71" x2="590.2" y2="71" stroke="#ff0000" stroke-width="1"/>
<text x="593.6" y="73" style="font-family:'Liberation Sans',sans-serif;font-size:7.85px">Z'<tspan dy="2.4" style="font-size:5.6px">TC2</tspan><tspan dy="-2.4"> 3 TeV (x 50)</tspan></text>
<rect x="574.3" y="78.9" width="15.6" height="7.8" fill="url(#hatch2)" stroke="#000" stroke-width="1"/>
<text x="593.6" y="84.9" style="font-family:'Liberation Sans',sans-serif;font-size:7.85px">Bkg. uncertainty</text>
<clipPath id="clipc"><rect x="46.6" y="298.6" width="265.7" height="157"/></clipPath>
<clipPath id="rclipc"><rect x="46.6" y="455.6" width="265.7" height="41.4"/></clipPath>
<g clip-path="url(#clipc)">
<path d="M46.6,456.6 L46.6,441 L58.15,441 L58.15,443.9 L69.7,443.9 L69.7,447.5 L81.26,447.5 L81.26,446.4 L92.81,446.4 L92.81,450.4 L104.36,450.4 L104.36,451.2 L115.91,451.2 L115.91,452.2 L127.47,452.2 L127.47,453 L139.02,453 L139.02,453.5 L150.57,453.5 L150.57,453.8 L162.12,453.8 L162.12,454 L173.67,454 L173.67,454.2 L196.78,454.2 L196.78,454.4 L219.88,454.4 L219.88,454.5 L242.99,454.5 L242.99,454.6 L312.3,454.6 L312.3,456.6 Z" fill="#00ff00" stroke="#000" stroke-width="0.9"/>
<path d="M46.6,456.6 L46.6,443.9 L58.15,443.9 L58.15,446 L69.7,446 L69.7,449.3 L81.26,449.3 L81.26,448.2 L92.81,448.2 L92.81,451 L104.36,451 L104.36,451.7 L115.91,451.7 L115.91,452.5 L127.47,452.5 L127.47,453.5 L139.02,453.5 L139.02,454 L150.57,454 L150.57,454.2 L162.12,454.2 L162.12,454.3 L173.67,454.3 L173.67,454.4 L196.78,454.4 L196.78,454.5 L219.88,454.5 L219.88,454.6 L242.99,454.6 L242.99,454.7 L312.3,454.7 L312.3,456.6 Z" fill="#ff0099" stroke="#000" stroke-width="0.9"/>
<path d="M46.6,456.6 L46.6,452.3 L58.15,452.3 L58.15,452.5 L69.7,452.5 L69.7,452.7 L81.26,452.7 L81.26,452.8 L92.81,452.8 L92.81,453 L104.36,453 L104.36,453.6 L115.91,453.6 L115.91,453.9 L127.47,453.9 L127.47,454.3 L139.02,454.3 L139.02,454.5 L150.57,454.5 L150.57,454.6 L162.12,454.6 L162.12,454.6 L173.67,454.6 L173.67,454.7 L196.78,454.7 L196.78,454.7 L219.88,454.7 L219.88,454.8 L242.99,454.8 L242.99,454.8 L312.3,454.8 L312.3,456.6 Z" fill="#ffff00" stroke="#000" stroke-width="0.9"/>
<line x1="46.6" y1="454.6" x2="312.3" y2="454.6" stroke="#000" stroke-width="1.0"/>
<path d="M46.6,372.4 L58.15,372.4 L58.15,383.8 L69.7,383.8 L69.7,399.4 L81.26,399.4 L81.26,406.4 L92.81,406.4 L92.81,420.1 L104.36,420.1 L104.36,428.3 L115.91,428.3 L115.91,435.3 L127.47,435.3 L127.47,440.2 L139.02,440.2 L139.02,444.1 L150.57,444.1 L150.57,447.3 L162.12,447.3 L162.12,449.6 L173.67,449.6 L173.67,451.4 L196.78,451.4 L196.78,453.5 L219.88,453.5 L219.88,454.4 L242.99,454.4 L242.99,454.8 L312.3,454.8" fill="none" stroke="#ff0000" stroke-width="1.15"/>
<path d="M46.6,376.4 L58.15,376.4 L58.15,388 L69.7,388 L69.7,402.3 L81.26,402.3 L81.26,409.3 L92.81,409.3 L92.81,422.5 L104.36,422.5 L104.36,430 L115.91,430 L115.91,436 L127.47,436 L127.47,440.7 L139.02,440.7 L139.02,444.5 L150.57,444.5 L150.57,447.6 L162.12,447.6 L162.12,449.9 L173.67,449.9 L173.67,451.6 L196.78,451.6 L196.78,453.7 L219.88,453.7 L219.88,454.5 L242.99,454.5 L242.99,454.9 L312.3,454.9" fill="none" stroke="#000" stroke-width="1.2"/>
<rect x="46.6" y="366.78" width="11.55" height="19.24" fill="url(#hatch)"/>
<rect x="58.15" y="379.81" width="11.55" height="16.38" fill="url(#hatch)"/>
<rect x="69.7" y="395.87" width="11.55" height="12.87" fill="url(#hatch)"/>
<rect x="81.26" y="403.73" width="11.55" height="11.14" fill="url(#hatch)"/>
<rect x="92.81" y="418.55" width="11.55" height="7.9" fill="url(#hatch)"/>
<rect x="104.36" y="426.97" width="11.55" height="6.05" fill="url(#hatch)"/>
<rect x="115.91" y="433.71" width="11.55" height="4.58" fill="url(#hatch)"/>
<rect x="127.47" y="438.99" width="11.55" height="3.42" fill="url(#hatch)"/>
<rect x="139.02" y="443.26" width="11.55" height="2.48" fill="url(#hatch)"/>
<rect x="150.57" y="446.74" width="11.55" height="1.72" fill="url(#hatch)"/>
<rect x="162.12" y="449.32" width="11.55" height="1.16" fill="url(#hatch)"/>
<rect x="173.67" y="451.12" width="23.1" height="0.96" fill="url(#hatch)"/>
<rect x="196.78" y="453.53" width="23.1" height="0.34" fill="url(#hatch)"/>
<rect x="219.88" y="454.48" width="23.1" height="0.04" fill="url(#hatch)"/>
<rect x="242.99" y="454.97" width="69.31" height="-0.13" fill="url(#hatch)"/>
<circle cx="52.38" cy="372.4" r="1.75" fill="#000"/>
<circle cx="63.93" cy="386.6" r="1.75" fill="#000"/>
<circle cx="75.48" cy="399.7" r="1.75" fill="#000"/>
<circle cx="87.03" cy="408.9" r="1.75" fill="#000"/>
<circle cx="98.58" cy="421" r="1.75" fill="#000"/>
<circle cx="110.14" cy="430.5" r="1.75" fill="#000"/>
<circle cx="121.69" cy="436.6" r="1.75" fill="#000"/>
<circle cx="133.24" cy="441.4" r="1.75" fill="#000"/>
<circle cx="144.79" cy="445" r="1.75" fill="#000"/>
<circle cx="156.35" cy="447.6" r="1.75" fill="#000"/>
<circle cx="167.9" cy="449.9" r="1.75" fill="#000"/>
<circle cx="185.23" cy="451.5" r="1.75" fill="#000"/>
<circle cx="208.33" cy="453.6" r="1.75" fill="#000"/>
<circle cx="231.43" cy="454.5" r="1.75" fill="#000"/>
<circle cx="277.64" cy="454.8" r="1.75" fill="#000"/>
</g>
<g clip-path="url(#rclipc)">
<path d="M46.6,475.6 L58.15,475.6 L58.15,475.6 L69.7,475.6 L69.7,475.7 L81.26,475.7 L81.26,475.8 L92.81,475.8 L92.81,475.8 L104.36,475.8 L104.36,476 L115.91,476 L115.91,476 L127.47,476 L127.47,475.7 L139.02,475.7 L139.02,474.2 L150.57,474.2 L150.57,475.4 L162.12,475.4 L162.12,475.6 L173.67,475.6 L173.67,476.8 L196.78,476.8 L196.78,477.7 L219.88,477.7 L219.88,477.9 L242.99,477.9 L242.99,478 L312.3,478" fill="none" stroke="#ff0000" stroke-width="1.25"/>
<rect x="46.6" y="473.4" width="11.55" height="9.2" fill="url(#hatch)"/>
<rect x="58.15" y="473.4" width="11.55" height="9.2" fill="url(#hatch)"/>
<rect x="69.7" y="473.4" width="11.55" height="9.2" fill="url(#hatch)"/>
<rect x="81.26" y="473.4" width="11.55" height="9.2" fill="url(#hatch)"/>
<rect x="92.81" y="473.4" width="11.55" height="9.2" fill="url(#hatch)"/>
<rect x="104.36" y="473.4" width="11.55" height="9.2" fill="url(#hatch)"/>
<rect x="115.91" y="473.4" width="11.55" height="9.2" fill="url(#hatch)"/>
<rect x="127.47" y="473.4" width="11.55" height="9.2" fill="url(#hatch)"/>
<rect x="139.02" y="473.4" width="11.55" height="9.2" fill="url(#hatch)"/>
<rect x="150.57" y="473.4" width="11.55" height="9.2" fill="url(#hatch)"/>
<rect x="162.12" y="473.4" width="11.55" height="9.2" fill="url(#hatch)"/>
<rect x="173.67" y="472" width="23.1" height="12" fill="url(#hatch)"/>
<rect x="196.78" y="471" width="23.1" height="14" fill="url(#hatch)"/>
<rect x="219.88" y="470.5" width="23.1" height="15" fill="url(#hatch)"/>
<rect x="242.99" y="469.8" width="69.31" height="16.4" fill="url(#hatch)"/>
<line x1="46.6" y1="478.5" x2="312.3" y2="478.5" stroke="#000" stroke-width="1" stroke-dasharray="2,1.6"/>
<line x1="46.6" y1="476.5" x2="58.15" y2="476.5" stroke="#000" stroke-width="1.1"/>
<circle cx="52.38" cy="476.1" r="1.75" fill="#000"/>
<line x1="58.15" y1="477.5" x2="69.7" y2="477.5" stroke="#000" stroke-width="1.1"/>
<circle cx="63.93" cy="477.5" r="1.75" fill="#000"/>
<line x1="69.7" y1="476.5" x2="81.26" y2="476.5" stroke="#000" stroke-width="1.1"/>
<circle cx="75.48" cy="476.1" r="1.75" fill="#000"/>
<line x1="81.26" y1="478.5" x2="92.81" y2="478.5" stroke="#000" stroke-width="1.1"/>
<circle cx="87.03" cy="478.1" r="1.75" fill="#000"/>
<line x1="92.81" y1="476.5" x2="104.36" y2="476.5" stroke="#000" stroke-width="1.1"/>
<circle cx="98.58" cy="476.5" r="1.75" fill="#000"/>
<line x1="104.36" y1="479.5" x2="115.91" y2="479.5" stroke="#000" stroke-width="1.1"/>
<circle cx="110.14" cy="479.5" r="1.75" fill="#000"/>
<line x1="115.91" y1="478.5" x2="127.47" y2="478.5" stroke="#000" stroke-width="1.1"/>
<circle cx="121.69" cy="478.1" r="1.75" fill="#000"/>
<line x1="127.47" y1="478.5" x2="139.02" y2="478.5" stroke="#000" stroke-width="1.1"/>
<circle cx="133.24" cy="478.9" r="1.75" fill="#000"/>
<line x1="139.02" y1="477.5" x2="150.57" y2="477.5" stroke="#000" stroke-width="1.1"/>
<circle cx="144.79" cy="477.9" r="1.75" fill="#000"/>
<line x1="150.57" y1="478.5" x2="162.12" y2="478.5" stroke="#000" stroke-width="1.1"/>
<circle cx="156.35" cy="478.9" r="1.75" fill="#000"/>
<line x1="162.12" y1="479.5" x2="173.67" y2="479.5" stroke="#000" stroke-width="1.1"/>
<circle cx="167.9" cy="479.5" r="1.75" fill="#000"/>
<line x1="173.67" y1="479.5" x2="196.78" y2="479.5" stroke="#000" stroke-width="1.1"/>
<circle cx="185.23" cy="479.2" r="1.75" fill="#000"/>
<line x1="196.78" y1="475.5" x2="219.88" y2="475.5" stroke="#000" stroke-width="1.1"/>
<circle cx="208.33" cy="475.2" r="1.75" fill="#000"/>
<line x1="219.88" y1="474.5" x2="242.99" y2="474.5" stroke="#000" stroke-width="1.1"/>
<circle cx="231.43" cy="474.3" r="1.75" fill="#000"/>
<line x1="242.99" y1="474.5" x2="312.3" y2="474.5" stroke="#000" stroke-width="1.1"/>
<circle cx="277.64" cy="474.7" r="1.75" fill="#000"/>
</g>
<path d="M46.6,454.5L50.8,454.5M312.3,454.5L308.1,454.5M46.6,448.5L50.8,448.5M312.3,448.5L308.1,448.5M46.6,443.5L50.8,443.5M312.3,443.5L308.1,443.5M46.6,437.5L50.8,437.5M312.3,437.5L308.1,437.5M46.6,431.5L50.8,431.5M312.3,431.5L308.1,431.5M46.6,425.5L54.6,425.5M312.3,425.5L304.3,425.5M46.6,420.5L50.8,420.5M312.3,420.5L308.1,420.5M46.6,414.5L50.8,414.5M312.3,414.5L308.1,414.5M46.6,408.5L50.8,408.5M312.3,408.5L308.1,408.5M46.6,402.5L50.8,402.5M312.3,402.5L308.1,402.5M46.6,397.5L54.6,397.5M312.3,397.5L304.3,397.5M46.6,391.5L50.8,391.5M312.3,391.5L308.1,391.5M46.6,385.5L50.8,385.5M312.3,385.5L308.1,385.5M46.6,379.5L50.8,379.5M312.3,379.5L308.1,379.5M46.6,373.5L50.8,373.5M312.3,373.5L308.1,373.5M46.6,368.5L54.6,368.5M312.3,368.5L304.3,368.5M46.6,362.5L50.8,362.5M312.3,362.5L308.1,362.5M46.6,356.5L50.8,356.5M312.3,356.5L308.1,356.5M46.6,350.5L50.8,350.5M312.3,350.5L308.1,350.5M46.6,345.5L50.8,345.5M312.3,345.5L308.1,345.5M46.6,339.5L54.6,339.5M312.3,339.5L304.3,339.5M46.6,333.5L50.8,333.5M312.3,333.5L308.1,333.5M46.6,327.5L50.8,327.5M312.3,327.5L308.1,327.5M46.6,322.5L50.8,322.5M312.3,322.5L308.1,322.5M46.6,316.5L50.8,316.5M312.3,316.5L308.1,316.5M46.6,310.5L54.6,310.5M312.3,310.5L304.3,310.5M46.6,304.5L50.8,304.5M312.3,304.5L308.1,304.5M46.6,299.5L50.8,299.5M312.3,299.5L308.1,299.5M46.5,298.6L46.5,301.2M46.5,455.6L46.5,453M46.5,497L46.5,495.8M46.5,455.6L46.5,456.8M58.5,298.6L58.5,301.2M58.5,455.6L58.5,453M58.5,497L58.5,495.8M58.5,455.6L58.5,456.8M69.5,298.6L69.5,303.6M69.5,455.6L69.5,450.6M69.5,497L69.5,494.6M69.5,455.6L69.5,458M81.5,298.6L81.5,301.2M81.5,455.6L81.5,453M81.5,497L81.5,495.8M81.5,455.6L81.5,456.8M92.5,298.6L92.5,301.2M92.5,455.6L92.5,453M92.5,497L92.5,495.8M92.5,455.6L92.5,456.8M104.5,298.6L104.5,301.2M104.5,455.6L104.5,453M104.5,497L104.5,495.8M104.5,455.6L104.5,456.8M115.5,298.6L115.5,301.2M115.5,455.6L115.5,453M115.5,497L115.5,495.8M115.5,455.6L115.5,456.8M127.5,298.6L127.5,303.6M127.5,455.6L127.5,450.6M127.5,497L127.5,494.6M127.5,455.6L127.5,458M139.5,298.6L139.5,301.2M139.5,455.6L139.5,453M139.5,497L139.5,495.8M139.5,455.6L139.5,456.8M150.5,298.6L150.5,301.2M150.5,455.6L150.5,453M150.5,497L150.5,495.8M150.5,455.6L150.5,456.8M162.5,298.6L162.5,301.2M162.5,455.6L162.5,453M162.5,497L162.5,495.8M162.5,455.6L162.5,456.8M173.5,298.6L173.5,301.2M173.5,455.6L173.5,453M173.5,497L173.5,495.8M173.5,455.6L173.5,456.8M185.5,298.6L185.5,303.6M185.5,455.6L185.5,450.6M185.5,497L185.5,494.6M185.5,455.6L185.5,458M196.5,298.6L196.5,301.2M196.5,455.6L196.5,453M196.5,497L196.5,495.8M196.5,455.6L196.5,456.8M208.5,298.6L208.5,301.2M208.5,455.6L208.5,453M208.5,497L208.5,495.8M208.5,455.6L208.5,456.8M219.5,298.6L219.5,301.2M219.5,455.6L219.5,453M219.5,497L219.5,495.8M219.5,455.6L219.5,456.8M231.5,298.6L231.5,301.2M231.5,455.6L231.5,453M231.5,497L231.5,495.8M231.5,455.6L231.5,456.8M242.5,298.6L242.5,303.6M242.5,455.6L242.5,450.6M242.5,497L242.5,494.6M242.5,455.6L242.5,458M254.5,298.6L254.5,301.2M254.5,455.6L254.5,453M254.5,497L254.5,495.8M254.5,455.6L254.5,456.8M266.5,298.6L266.5,301.2M266.5,455.6L266.5,453M266.5,497L266.5,495.8M266.5,455.6L266.5,456.8M277.5,298.6L277.5,301.2M277.5,455.6L277.5,453M277.5,497L277.5,495.8M277.5,455.6L277.5,456.8M289.5,298.6L289.5,301.2M289.5,455.6L289.5,453M289.5,497L289.5,495.8M289.5,455.6L289.5,456.8M300.5,298.6L300.5,303.6M300.5,455.6L300.5,450.6M300.5,497L300.5,494.6M300.5,455.6L300.5,458M312.5,298.6L312.5,301.2M312.5,455.6L312.5,453M312.5,497L312.5,495.8M312.5,455.6L312.5,456.8M46.6,496.5L51.1,496.5M312.3,496.5L307.8,496.5M46.6,492.5L48.6,492.5M312.3,492.5L310.3,492.5M46.6,489.5L48.6,489.5M312.3,489.5L310.3,489.5M46.6,485.5L48.6,485.5M312.3,485.5L310.3,485.5M46.6,481.5L48.6,481.5M312.3,481.5L310.3,481.5M46.6,478.5L51.1,478.5M312.3,478.5L307.8,478.5M46.6,474.5L48.6,474.5M312.3,474.5L310.3,474.5M46.6,470.5L48.6,470.5M312.3,470.5L310.3,470.5M46.6,466.5L48.6,466.5M312.3,466.5L310.3,466.5M46.6,463.5L48.6,463.5M312.3,463.5L310.3,463.5M46.6,459.5L51.1,459.5M312.3,459.5L307.8,459.5M46.6,455.5L48.6,455.5M312.3,455.5L310.3,455.5" stroke="#000" stroke-width="0.9" fill="none"/>
<rect x="46.6" y="298.6" width="265.7" height="157" fill="none" stroke="#000" stroke-width="1.1"/>
<rect x="46.6" y="455.6" width="265.7" height="41.4" fill="none" stroke="#000" stroke-width="1.1"/>
<text x="43.9" y="430.2" text-anchor="end" style="font-family:'Liberation Sans',sans-serif;font-size:10.6px">50</text>
<text x="43.9" y="401.4" text-anchor="end" style="font-family:'Liberation Sans',sans-serif;font-size:10.6px">100</text>
<text x="43.9" y="372.6" text-anchor="end" style="font-family:'Liberation Sans',sans-serif;font-size:10.6px">150</text>
<text x="43.9" y="343.8" text-anchor="end" style="font-family:'Liberation Sans',sans-serif;font-size:10.6px">200</text>
<text x="43.9" y="315" text-anchor="end" style="font-family:'Liberation Sans',sans-serif;font-size:10.6px">250</text>
<text x="39.7" y="501.1" text-anchor="end" style="font-family:'Liberation Sans',sans-serif;font-size:10.6px">0.5</text>
<text x="39.7" y="482.4" text-anchor="end" style="font-family:'Liberation Sans',sans-serif;font-size:10.6px">1</text>
<text x="39.7" y="463.7" text-anchor="end" style="font-family:'Liberation Sans',sans-serif;font-size:10.6px">1.5</text>
<text x="69.7" y="507.6" text-anchor="middle" style="font-family:'Liberation Sans',sans-serif;font-size:10.6px">50</text>
<text x="127.47" y="507.6" text-anchor="middle" style="font-family:'Liberation Sans',sans-serif;font-size:10.6px">100</text>
<text x="185.23" y="507.6" text-anchor="middle" style="font-family:'Liberation Sans',sans-serif;font-size:10.6px">150</text>
<text x="242.99" y="507.6" text-anchor="middle" style="font-family:'Liberation Sans',sans-serif;font-size:10.6px">200</text>
<text x="300.75" y="507.6" text-anchor="middle" style="font-family:'Liberation Sans',sans-serif;font-size:10.6px">250</text>
<path d="M46.3,291.3L51.9,296.7M46.3,296.7L51.9,291.3" stroke="#000" stroke-width="0.85"/>
<text x="52.2" y="296.8" style="font-family:'Liberation Sans',sans-serif;font-size:11px">10</text>
<text x="64.7" y="291.8" style="font-family:'Liberation Sans',sans-serif;font-size:6.6px">3</text>
<text transform="translate(11.7,299) rotate(-90)" text-anchor="end" textLength="92" lengthAdjust="spacing" style="font-family:'Liberation Sans',sans-serif;font-size:12.4px">Events / 20 GeV</text>
<text transform="translate(8.7,455.2) rotate(-90)" text-anchor="end" textLength="62.6" lengthAdjust="spacing" style="font-family:'Liberation Sans',sans-serif;font-size:12.4px">Data / Bkg.</text>
<text x="312.6" y="522.8" text-anchor="end" style="font-family:'Liberation Sans',sans-serif;font-size:12.9px">Lepton p<tspan dy="6.2" style="font-size:8.4px">T</tspan><tspan dy="-6.2"> [GeV]</tspan></text>
<text x="60.9" y="313.7" style="font-family:'Liberation Sans',sans-serif;font-size:11px;font-weight:bold;font-style:italic" textLength="36.4" lengthAdjust="spacingAndGlyphs">ATLAS</text>
<path d="M60.6,325 L61.5,324.5 L62.4,330.3 L63.4,321.5 L69.5,321.5" fill="none" stroke="#000" stroke-width="0.85" stroke-linejoin="miter"/>
<text x="64.5" y="329.4" style="font-family:'Liberation Sans',sans-serif;font-size:9.4px">s = 13 TeV, 36.1 fb<tspan dy="-3.3" style="font-size:6.5px">-1</tspan></text>
<text x="60.9" y="344.7" style="font-family:'Liberation Sans',sans-serif;font-size:9.5px">resolved, e+jets</text>
<line x1="210.3" y1="308.7" x2="226.5" y2="308.7" stroke="#000" stroke-width="1"/>
<circle cx="218.4" cy="308.7" r="1.6" fill="#000"/>
<text x="229.9" y="310.8" style="font-family:'Liberation Sans',sans-serif;font-size:7.85px">Data</text>
<rect x="210.6" y="316.2" width="15.6" height="7.8" fill="#fff" stroke="#000" stroke-width="1"/>
<text x="229.9" y="322.7" style="font-family:'Liberation Sans',sans-serif;font-size:7.85px">tt</text>
<line x1="232.1" y1="315.5" x2="234.3" y2="315.5" stroke="#000" stroke-width="0.9"/>
<rect x="210.6" y="327.7" width="15.6" height="7.8" fill="#00ff00" stroke="#000" stroke-width="1"/>
<text x="229.9" y="333.7" style="font-family:'Liberation Sans',sans-serif;font-size:7.85px">W+jets</text>
<rect x="210.6" y="339.4" width="15.6" height="7.8" fill="#ff0099" stroke="#000" stroke-width="1"/>
<text x="229.9" y="345.4" style="font-family:'Liberation Sans',sans-serif;font-size:7.85px">Multi-jet</text>
<rect x="210.6" y="351" width="15.6" height="7.8" fill="#ffff00" stroke="#000" stroke-width="1"/>
<text x="229.9" y="357" style="font-family:'Liberation Sans',sans-serif;font-size:7.85px">Others</text>
<line x1="210.3" y1="366.4" x2="226.5" y2="366.4" stroke="#ff0000" stroke-width="1"/>
<text x="229.9" y="368.4" style="font-family:'Liberation Sans',sans-serif;font-size:7.85px">Z'<tspan dy="2.4" style="font-size:5.6px">TC2</tspan><tspan dy="-2.4"> 0.5 TeV</tspan></text>
<rect x="210.6" y="374.3" width="15.6" height="7.8" fill="url(#hatch2)" stroke="#000" stroke-width="1"/>
<text x="229.9" y="380.3" style="font-family:'Liberation Sans',sans-serif;font-size:7.85px">Bkg. uncertainty</text>
<clipPath id="clipd"><rect x="410.4" y="298.7" width="265.6" height="156.9"/></clipPath>
<clipPath id="rclipd"><rect x="410.4" y="455.6" width="265.6" height="41.4"/></clipPath>
<g clip-path="url(#clipd)">
<path d="M410.4,457.3 L410.4,443.2 L421.95,443.2 L421.95,446.9 L433.5,446.9 L433.5,449.1 L445.04,449.1 L445.04,451.6 L456.59,451.6 L456.59,451.8 L468.14,451.8 L468.14,453 L479.69,453 L479.69,453.4 L491.23,453.4 L491.23,454 L502.78,454 L502.78,454.3 L514.33,454.3 L514.33,454.5 L525.88,454.5 L525.88,454.6 L537.43,454.6 L537.43,454.7 L560.52,454.7 L560.52,454.8 L583.62,454.8 L583.62,454.9 L606.71,454.9 L606.71,454.9 L676,454.9 L676,457.3 Z" fill="#00ff00" stroke="#000" stroke-width="0.9"/>
<path d="M410.4,457.3 L410.4,447.2 L421.95,447.2 L421.95,449.8 L433.5,449.8 L433.5,451 L445.04,451 L445.04,452.9 L456.59,452.9 L456.59,453 L468.14,453 L468.14,453.8 L479.69,453.8 L479.69,454.1 L491.23,454.1 L491.23,454.5 L502.78,454.5 L502.78,454.6 L514.33,454.6 L514.33,454.7 L525.88,454.7 L525.88,454.8 L537.43,454.8 L537.43,454.9 L560.52,454.9 L560.52,454.9 L583.62,454.9 L583.62,455 L606.71,455 L606.71,455 L676,455 L676,457.3 Z" fill="#ff0099" stroke="#000" stroke-width="0.9"/>
<path d="M410.4,457.3 L410.4,452 L421.95,452 L421.95,452.4 L433.5,452.4 L433.5,452.8 L445.04,452.8 L445.04,453.6 L456.59,453.6 L456.59,453.8 L468.14,453.8 L468.14,454.4 L479.69,454.4 L479.69,454.6 L491.23,454.6 L491.23,454.8 L502.78,454.8 L502.78,454.9 L514.33,454.9 L514.33,454.9 L525.88,454.9 L525.88,455 L537.43,455 L537.43,455 L560.52,455 L560.52,455.1 L583.62,455.1 L583.62,455.1 L606.71,455.1 L606.71,455.1 L676,455.1 L676,457.3 Z" fill="#ffff00" stroke="#000" stroke-width="0.9"/>
<line x1="410.4" y1="455.3" x2="676" y2="455.3" stroke="#000" stroke-width="1.0"/>
<path d="M410.4,374.6 L421.95,374.6 L421.95,388 L433.5,388 L433.5,403.8 L445.04,403.8 L445.04,418.4 L456.59,418.4 L456.59,427.4 L468.14,427.4 L468.14,435.6 L479.69,435.6 L479.69,441.2 L491.23,441.2 L491.23,445 L502.78,445 L502.78,447.3 L514.33,447.3 L514.33,449.5 L525.88,449.5 L525.88,451 L537.43,451 L537.43,452.1 L560.52,452.1 L560.52,453.3 L583.62,453.3 L583.62,453.9 L606.71,453.9 L606.71,454.4 L676,454.4" fill="none" stroke="#ff0000" stroke-width="1.15"/>
<path d="M410.4,379 L421.95,379 L421.95,392.1 L433.5,392.1 L433.5,407 L445.04,407 L445.04,421 L456.59,421 L456.59,429 L468.14,429 L468.14,436.6 L479.69,436.6 L479.69,441.8 L491.23,441.8 L491.23,445.4 L502.78,445.4 L502.78,447.6 L514.33,447.6 L514.33,449.8 L525.88,449.8 L525.88,451.2 L537.43,451.2 L537.43,452.3 L560.52,452.3 L560.52,453.4 L583.62,453.4 L583.62,454 L606.71,454 L606.71,454.5 L676,454.5" fill="none" stroke="#000" stroke-width="1.2"/>
<rect x="410.4" y="370.02" width="11.55" height="17.95" fill="url(#hatch)"/>
<rect x="421.95" y="384.66" width="11.55" height="14.87" fill="url(#hatch)"/>
<rect x="433.5" y="401.32" width="11.55" height="11.36" fill="url(#hatch)"/>
<rect x="445.04" y="416.96" width="11.55" height="8.07" fill="url(#hatch)"/>
<rect x="456.59" y="425.91" width="11.55" height="6.19" fill="url(#hatch)"/>
<rect x="468.14" y="434.4" width="11.55" height="4.4" fill="url(#hatch)"/>
<rect x="479.69" y="440.21" width="11.55" height="3.18" fill="url(#hatch)"/>
<rect x="491.23" y="444.24" width="11.55" height="2.33" fill="url(#hatch)"/>
<rect x="502.78" y="446.69" width="11.55" height="1.81" fill="url(#hatch)"/>
<rect x="514.33" y="449.15" width="11.55" height="1.29" fill="url(#hatch)"/>
<rect x="525.88" y="450.72" width="11.55" height="0.96" fill="url(#hatch)"/>
<rect x="537.43" y="451.9" width="23.1" height="0.8" fill="url(#hatch)"/>
<rect x="560.52" y="453.1" width="23.1" height="0.61" fill="url(#hatch)"/>
<rect x="583.62" y="453.72" width="23.1" height="0.56" fill="url(#hatch)"/>
<rect x="606.71" y="454.32" width="69.29" height="0.35" fill="url(#hatch)"/>
<circle cx="416.17" cy="372.4" r="1.75" fill="#000"/>
<circle cx="427.72" cy="386.3" r="1.75" fill="#000"/>
<circle cx="439.27" cy="403.4" r="1.75" fill="#000"/>
<circle cx="450.82" cy="417.7" r="1.75" fill="#000"/>
<circle cx="462.37" cy="427.9" r="1.75" fill="#000"/>
<circle cx="473.91" cy="435.5" r="1.75" fill="#000"/>
<circle cx="485.46" cy="441" r="1.75" fill="#000"/>
<circle cx="497.01" cy="445.1" r="1.75" fill="#000"/>
<circle cx="508.56" cy="447.4" r="1.75" fill="#000"/>
<circle cx="520.1" cy="450" r="1.75" fill="#000"/>
<circle cx="531.65" cy="451.3" r="1.75" fill="#000"/>
<circle cx="548.97" cy="452.3" r="1.75" fill="#000"/>
<circle cx="572.07" cy="453.4" r="1.75" fill="#000"/>
<circle cx="595.17" cy="453.9" r="1.75" fill="#000"/>
<circle cx="641.36" cy="454.3" r="1.75" fill="#000"/>
</g>
<g clip-path="url(#rclipd)">
<path d="M410.4,475.5 L421.95,475.5 L421.95,475.5 L433.5,475.5 L433.5,475.6 L445.04,475.6 L445.04,475.7 L456.59,475.7 L456.59,475.9 L468.14,475.9 L468.14,476.2 L479.69,476.2 L479.69,476.5 L491.23,476.5 L491.23,476.8 L502.78,476.8 L502.78,477 L514.33,477 L514.33,477.2 L525.88,477.2 L525.88,477.3 L537.43,477.3 L537.43,477.4 L560.52,477.4 L560.52,477.5 L583.62,477.5 L583.62,477.6 L606.71,477.6 L606.71,477.7 L676,477.7" fill="none" stroke="#ff0000" stroke-width="1.25"/>
<rect x="410.4" y="473.7" width="11.55" height="8.8" fill="url(#hatch)"/>
<rect x="421.95" y="473.7" width="11.55" height="8.8" fill="url(#hatch)"/>
<rect x="433.5" y="473.7" width="11.55" height="8.8" fill="url(#hatch)"/>
<rect x="445.04" y="473.7" width="11.55" height="8.8" fill="url(#hatch)"/>
<rect x="456.59" y="473.7" width="11.55" height="8.8" fill="url(#hatch)"/>
<rect x="468.14" y="473.7" width="11.55" height="8.8" fill="url(#hatch)"/>
<rect x="479.69" y="473.7" width="11.55" height="8.8" fill="url(#hatch)"/>
<rect x="491.23" y="473.7" width="11.55" height="8.8" fill="url(#hatch)"/>
<rect x="502.78" y="473.7" width="11.55" height="8.8" fill="url(#hatch)"/>
<rect x="514.33" y="473.7" width="11.55" height="8.8" fill="url(#hatch)"/>
<rect x="525.88" y="473.7" width="11.55" height="8.8" fill="url(#hatch)"/>
<rect x="537.43" y="473.1" width="23.1" height="10" fill="url(#hatch)"/>
<rect x="560.52" y="472.1" width="23.1" height="12" fill="url(#hatch)"/>
<rect x="583.62" y="470.1" width="23.1" height="16" fill="url(#hatch)"/>
<rect x="606.71" y="469.9" width="69.29" height="16.4" fill="url(#hatch)"/>
<line x1="410.4" y1="478.5" x2="676" y2="478.5" stroke="#000" stroke-width="1" stroke-dasharray="2,1.6"/>
<line x1="410.4" y1="475.5" x2="421.95" y2="475.5" stroke="#000" stroke-width="1.1"/>
<circle cx="416.17" cy="475" r="1.75" fill="#000"/>
<line x1="421.95" y1="474.5" x2="433.5" y2="474.5" stroke="#000" stroke-width="1.1"/>
<circle cx="427.72" cy="474.4" r="1.75" fill="#000"/>
<line x1="433.5" y1="475.5" x2="445.04" y2="475.5" stroke="#000" stroke-width="1.1"/>
<circle cx="439.27" cy="475" r="1.75" fill="#000"/>
<line x1="445.04" y1="474.5" x2="456.59" y2="474.5" stroke="#000" stroke-width="1.1"/>
<circle cx="450.82" cy="474.8" r="1.75" fill="#000"/>
<line x1="456.59" y1="476.5" x2="468.14" y2="476.5" stroke="#000" stroke-width="1.1"/>
<circle cx="462.37" cy="476.5" r="1.75" fill="#000"/>
<line x1="468.14" y1="475.5" x2="479.69" y2="475.5" stroke="#000" stroke-width="1.1"/>
<circle cx="473.91" cy="475" r="1.75" fill="#000"/>
<line x1="479.69" y1="475.5" x2="491.23" y2="475.5" stroke="#000" stroke-width="1.1"/>
<circle cx="485.46" cy="475" r="1.75" fill="#000"/>
<line x1="491.23" y1="477.5" x2="502.78" y2="477.5" stroke="#000" stroke-width="1.1"/>
<circle cx="497.01" cy="477.1" r="1.75" fill="#000"/>
<line x1="502.78" y1="478.5" x2="514.33" y2="478.5" stroke="#000" stroke-width="1.1"/>
<circle cx="508.56" cy="478.5" r="1.75" fill="#000"/>
<line x1="514.33" y1="477.5" x2="525.88" y2="477.5" stroke="#000" stroke-width="1.1"/>
<circle cx="520.1" cy="477.9" r="1.75" fill="#000"/>
<line x1="525.88" y1="479.5" x2="537.43" y2="479.5" stroke="#000" stroke-width="1.1"/>
<circle cx="531.65" cy="479.1" r="1.75" fill="#000"/>
<line x1="537.43" y1="478.5" x2="560.52" y2="478.5" stroke="#000" stroke-width="1.1"/>
<circle cx="548.97" cy="478.5" r="1.75" fill="#000"/>
<line x1="560.52" y1="476.5" x2="583.62" y2="476.5" stroke="#000" stroke-width="1.1"/>
<circle cx="572.07" cy="476.5" r="1.75" fill="#000"/>
<line x1="583.62" y1="478.5" x2="606.71" y2="478.5" stroke="#000" stroke-width="1.1"/>
<circle cx="595.17" cy="478.3" r="1.75" fill="#000"/>
<line x1="606.71" y1="476.5" x2="676" y2="476.5" stroke="#000" stroke-width="1.1"/>
<circle cx="641.36" cy="476.9" r="1.75" fill="#000"/>
</g>
<path d="M410.4,455.5L414.6,455.5M676,455.5L671.8,455.5M410.4,450.5L414.6,450.5M676,450.5L671.8,450.5M410.4,444.5L414.6,444.5M676,444.5L671.8,444.5M410.4,439.5L414.6,439.5M676,439.5L671.8,439.5M410.4,434.5L414.6,434.5M676,434.5L671.8,434.5M410.4,429.5L418.4,429.5M676,429.5L668,429.5M410.4,423.5L414.6,423.5M676,423.5L671.8,423.5M410.4,418.5L414.6,418.5M676,418.5L671.8,418.5M410.4,413.5L414.6,413.5M676,413.5L671.8,413.5M410.4,407.5L414.6,407.5M676,407.5L671.8,407.5M410.4,402.5L418.4,402.5M676,402.5L668,402.5M410.4,397.5L414.6,397.5M676,397.5L671.8,397.5M410.4,392.5L414.6,392.5M676,392.5L671.8,392.5M410.4,386.5L414.6,386.5M676,386.5L671.8,386.5M410.4,381.5L414.6,381.5M676,381.5L671.8,381.5M410.4,376.5L418.4,376.5M676,376.5L668,376.5M410.4,371.5L414.6,371.5M676,371.5L671.8,371.5M410.4,365.5L414.6,365.5M676,365.5L671.8,365.5M410.4,360.5L414.6,360.5M676,360.5L671.8,360.5M410.4,355.5L414.6,355.5M676,355.5L671.8,355.5M410.4,350.5L418.4,350.5M676,350.5L668,350.5M410.4,344.5L414.6,344.5M676,344.5L671.8,344.5M410.4,339.5L414.6,339.5M676,339.5L671.8,339.5M410.4,334.5L414.6,334.5M676,334.5L671.8,334.5M410.4,329.5L414.6,329.5M676,329.5L671.8,329.5M410.4,323.5L418.4,323.5M676,323.5L668,323.5M410.4,318.5L414.6,318.5M676,318.5L671.8,318.5M410.4,313.5L414.6,313.5M676,313.5L671.8,313.5M410.4,308.5L414.6,308.5M676,308.5L671.8,308.5M410.4,302.5L414.6,302.5M676,302.5L671.8,302.5M410.5,298.7L410.5,301.3M410.5,455.6L410.5,453M410.5,497L410.5,495.8M410.5,455.6L410.5,456.8M421.5,298.7L421.5,301.3M421.5,455.6L421.5,453M421.5,497L421.5,495.8M421.5,455.6L421.5,456.8M433.5,298.7L433.5,303.7M433.5,455.6L433.5,450.6M433.5,497L433.5,494.6M433.5,455.6L433.5,458M445.5,298.7L445.5,301.3M445.5,455.6L445.5,453M445.5,497L445.5,495.8M445.5,455.6L445.5,456.8M456.5,298.7L456.5,301.3M456.5,455.6L456.5,453M456.5,497L456.5,495.8M456.5,455.6L456.5,456.8M468.5,298.7L468.5,301.3M468.5,455.6L468.5,453M468.5,497L468.5,495.8M468.5,455.6L468.5,456.8M479.5,298.7L479.5,301.3M479.5,455.6L479.5,453M479.5,497L479.5,495.8M479.5,455.6L479.5,456.8M491.5,298.7L491.5,303.7M491.5,455.6L491.5,450.6M491.5,497L491.5,494.6M491.5,455.6L491.5,458M502.5,298.7L502.5,301.3M502.5,455.6L502.5,453M502.5,497L502.5,495.8M502.5,455.6L502.5,456.8M514.5,298.7L514.5,301.3M514.5,455.6L514.5,453M514.5,497L514.5,495.8M514.5,455.6L514.5,456.8M525.5,298.7L525.5,301.3M525.5,455.6L525.5,453M525.5,497L525.5,495.8M525.5,455.6L525.5,456.8M537.5,298.7L537.5,301.3M537.5,455.6L537.5,453M537.5,497L537.5,495.8M537.5,455.6L537.5,456.8M548.5,298.7L548.5,303.7M548.5,455.6L548.5,450.6M548.5,497L548.5,494.6M548.5,455.6L548.5,458M560.5,298.7L560.5,301.3M560.5,455.6L560.5,453M560.5,497L560.5,495.8M560.5,455.6L560.5,456.8M572.5,298.7L572.5,301.3M572.5,455.6L572.5,453M572.5,497L572.5,495.8M572.5,455.6L572.5,456.8M583.5,298.7L583.5,301.3M583.5,455.6L583.5,453M583.5,497L583.5,495.8M583.5,455.6L583.5,456.8M595.5,298.7L595.5,301.3M595.5,455.6L595.5,453M595.5,497L595.5,495.8M595.5,455.6L595.5,456.8M606.5,298.7L606.5,303.7M606.5,455.6L606.5,450.6M606.5,497L606.5,494.6M606.5,455.6L606.5,458M618.5,298.7L618.5,301.3M618.5,455.6L618.5,453M618.5,497L618.5,495.8M618.5,455.6L618.5,456.8M629.5,298.7L629.5,301.3M629.5,455.6L629.5,453M629.5,497L629.5,495.8M629.5,455.6L629.5,456.8M641.5,298.7L641.5,301.3M641.5,455.6L641.5,453M641.5,497L641.5,495.8M641.5,455.6L641.5,456.8M652.5,298.7L652.5,301.3M652.5,455.6L652.5,453M652.5,497L652.5,495.8M652.5,455.6L652.5,456.8M664.5,298.7L664.5,303.7M664.5,455.6L664.5,450.6M664.5,497L664.5,494.6M664.5,455.6L664.5,458M676.5,298.7L676.5,301.3M676.5,455.6L676.5,453M676.5,497L676.5,495.8M676.5,455.6L676.5,456.8M410.4,496.5L414.9,496.5M676,496.5L671.5,496.5M410.4,493.5L412.4,493.5M676,493.5L674,493.5M410.4,489.5L412.4,489.5M676,489.5L674,489.5M410.4,485.5L412.4,485.5M676,485.5L674,485.5M410.4,481.5L412.4,481.5M676,481.5L674,481.5M410.4,478.5L414.9,478.5M676,478.5L671.5,478.5M410.4,474.5L412.4,474.5M676,474.5L674,474.5M410.4,470.5L412.4,470.5M676,470.5L674,470.5M410.4,466.5L412.4,466.5M676,466.5L674,466.5M410.4,463.5L412.4,463.5M676,463.5L674,463.5M410.4,459.5L414.9,459.5M676,459.5L671.5,459.5M410.4,455.5L412.4,455.5M676,455.5L674,455.5" stroke="#000" stroke-width="0.9" fill="none"/>
<rect x="410.4" y="298.7" width="265.6" height="156.9" fill="none" stroke="#000" stroke-width="1.1"/>
<rect x="410.4" y="455.6" width="265.6" height="41.4" fill="none" stroke="#000" stroke-width="1.1"/>
<text x="407.7" y="433.4" text-anchor="end" style="font-family:'Liberation Sans',sans-serif;font-size:10.6px">50</text>
<text x="407.7" y="407.1" text-anchor="end" style="font-family:'Liberation Sans',sans-serif;font-size:10.6px">100</text>
<text x="407.7" y="380.8" text-anchor="end" style="font-family:'Liberation Sans',sans-serif;font-size:10.6px">150</text>
<text x="407.7" y="354.5" text-anchor="end" style="font-family:'Liberation Sans',sans-serif;font-size:10.6px">200</text>
<text x="407.7" y="328.2" text-anchor="end" style="font-family:'Liberation Sans',sans-serif;font-size:10.6px">250</text>
<text x="403.5" y="501.2" text-anchor="end" style="font-family:'Liberation Sans',sans-serif;font-size:10.6px">0.5</text>
<text x="403.5" y="482.5" text-anchor="end" style="font-family:'Liberation Sans',sans-serif;font-size:10.6px">1</text>
<text x="403.5" y="463.8" text-anchor="end" style="font-family:'Liberation Sans',sans-serif;font-size:10.6px">1.5</text>
<text x="433.5" y="507.6" text-anchor="middle" style="font-family:'Liberation Sans',sans-serif;font-size:10.6px">50</text>
<text x="491.23" y="507.6" text-anchor="middle" style="font-family:'Liberation Sans',sans-serif;font-size:10.6px">100</text>
<text x="548.97" y="507.6" text-anchor="middle" style="font-family:'Liberation Sans',sans-serif;font-size:10.6px">150</text>
<text x="606.71" y="507.6" text-anchor="middle" style="font-family:'Liberation Sans',sans-serif;font-size:10.6px">200</text>
<text x="664.45" y="507.6" text-anchor="middle" style="font-family:'Liberation Sans',sans-serif;font-size:10.6px">250</text>
<path d="M410.1,291.4L415.7,296.8M410.1,296.8L415.7,291.4" stroke="#000" stroke-width="0.85"/>
<text x="416" y="296.9" style="font-family:'Liberation Sans',sans-serif;font-size:11px">10</text>
<text x="428.5" y="291.9" style="font-family:'Liberation Sans',sans-serif;font-size:6.6px">3</text>
<text transform="translate(376.2,299.1) rotate(-90)" text-anchor="end" textLength="92" lengthAdjust="spacing" style="font-family:'Liberation Sans',sans-serif;font-size:12.4px">Events / 20 GeV</text>
<text transform="translate(373.2,455.2) rotate(-90)" text-anchor="end" textLength="62.6" lengthAdjust="spacing" style="font-family:'Liberation Sans',sans-serif;font-size:12.4px">Data / Bkg.</text>
<text x="676.3" y="522.8" text-anchor="end" style="font-family:'Liberation Sans',sans-serif;font-size:12.9px">Lepton p<tspan dy="6.2" style="font-size:8.4px">T</tspan><tspan dy="-6.2"> [GeV]</tspan></text>
<text x="424.7" y="313.8" style="font-family:'Liberation Sans',sans-serif;font-size:11px;font-weight:bold;font-style:italic" textLength="36.4" lengthAdjust="spacingAndGlyphs">ATLAS</text>
<path d="M424.4,325.1 L425.3,324.6 L426.2,330.4 L427.2,321.6 L433.3,321.6" fill="none" stroke="#000" stroke-width="0.85" stroke-linejoin="miter"/>
<text x="428.3" y="329.5" style="font-family:'Liberation Sans',sans-serif;font-size:9.4px">s = 13 TeV, 36.1 fb<tspan dy="-3.3" style="font-size:6.5px">-1</tspan></text>
<text x="424.7" y="344.8" style="font-family:'Liberation Sans',sans-serif;font-size:9.5px">resolved, &#956;+jets</text>
<line x1="574.1" y1="308.8" x2="590.3" y2="308.8" stroke="#000" stroke-width="1"/>
<circle cx="582.2" cy="308.8" r="1.6" fill="#000"/>
<text x="593.7" y="310.9" style="font-family:'Liberation Sans',sans-serif;font-size:7.85px">Data</text>
<rect x="574.4" y="316.3" width="15.6" height="7.8" fill="#fff" stroke="#000" stroke-width="1"/>
<text x="593.7" y="322.8" style="font-family:'Liberation Sans',sans-serif;font-size:7.85px">tt</text>
<line x1="595.9" y1="315.5" x2="598.1" y2="315.5" stroke="#000" stroke-width="0.9"/>
<rect x="574.4" y="327.8" width="15.6" height="7.8" fill="#00ff00" stroke="#000" stroke-width="1"/>
<text x="593.7" y="333.8" style="font-family:'Liberation Sans',sans-serif;font-size:7.85px">W+jets</text>
<rect x="574.4" y="339.5" width="15.6" height="7.8" fill="#ff0099" stroke="#000" stroke-width="1"/>
<text x="593.7" y="345.5" style="font-family:'Liberation Sans',sans-serif;font-size:7.85px">Multi-jet</text>
<rect x="574.4" y="351.1" width="15.6" height="7.8" fill="#ffff00" stroke="#000" stroke-width="1"/>
<text x="593.7" y="357.1" style="font-family:'Liberation Sans',sans-serif;font-size:7.85px">Others</text>
<line x1="574.1" y1="366.5" x2="590.3" y2="366.5" stroke="#ff0000" stroke-width="1"/>
<text x="593.7" y="368.5" style="font-family:'Liberation Sans',sans-serif;font-size:7.85px">Z'<tspan dy="2.4" style="font-size:5.6px">TC2</tspan><tspan dy="-2.4"> 0.5 TeV</tspan></text>
<rect x="574.4" y="374.4" width="15.6" height="7.8" fill="url(#hatch2)" stroke="#000" stroke-width="1"/>
<text x="593.7" y="380.4" style="font-family:'Liberation Sans',sans-serif;font-size:7.85px">Bkg. uncertainty</text>
<text x="74.6" y="258" style="font-family:'Liberation Serif',serif;font-size:15.4px;font-weight:bold">(a)</text>
<text x="101.8" y="258" style="font-family:'Liberation Serif',serif;font-size:15.4px"><tspan style="font-style:italic">e</tspan>+jets, boosted selection.</text>
<text x="437.8" y="257.6" style="font-family:'Liberation Serif',serif;font-size:15.4px;font-weight:bold">(b)</text>
<text x="466" y="257.6" style="font-family:'Liberation Serif',serif;font-size:15.4px"><tspan style="font-style:italic">&#956;</tspan>+jets, boosted selection.</text>
<text x="74.5" y="553.3" style="font-family:'Liberation Serif',serif;font-size:15.4px;font-weight:bold">(c)</text>
<text x="100" y="553.3" style="font-family:'Liberation Serif',serif;font-size:15.4px"><tspan style="font-style:italic">e</tspan>+jets, resolved selection.</text>
<text x="438.1" y="553.3" style="font-family:'Liberation Serif',serif;font-size:15.4px;font-weight:bold">(d)</text>
<text x="463.7" y="553.3" style="font-family:'Liberation Serif',serif;font-size:15.4px"><tspan style="font-style:italic">&#956;</tspan>+jets, resolved selection.</text>
</svg></body></html>
